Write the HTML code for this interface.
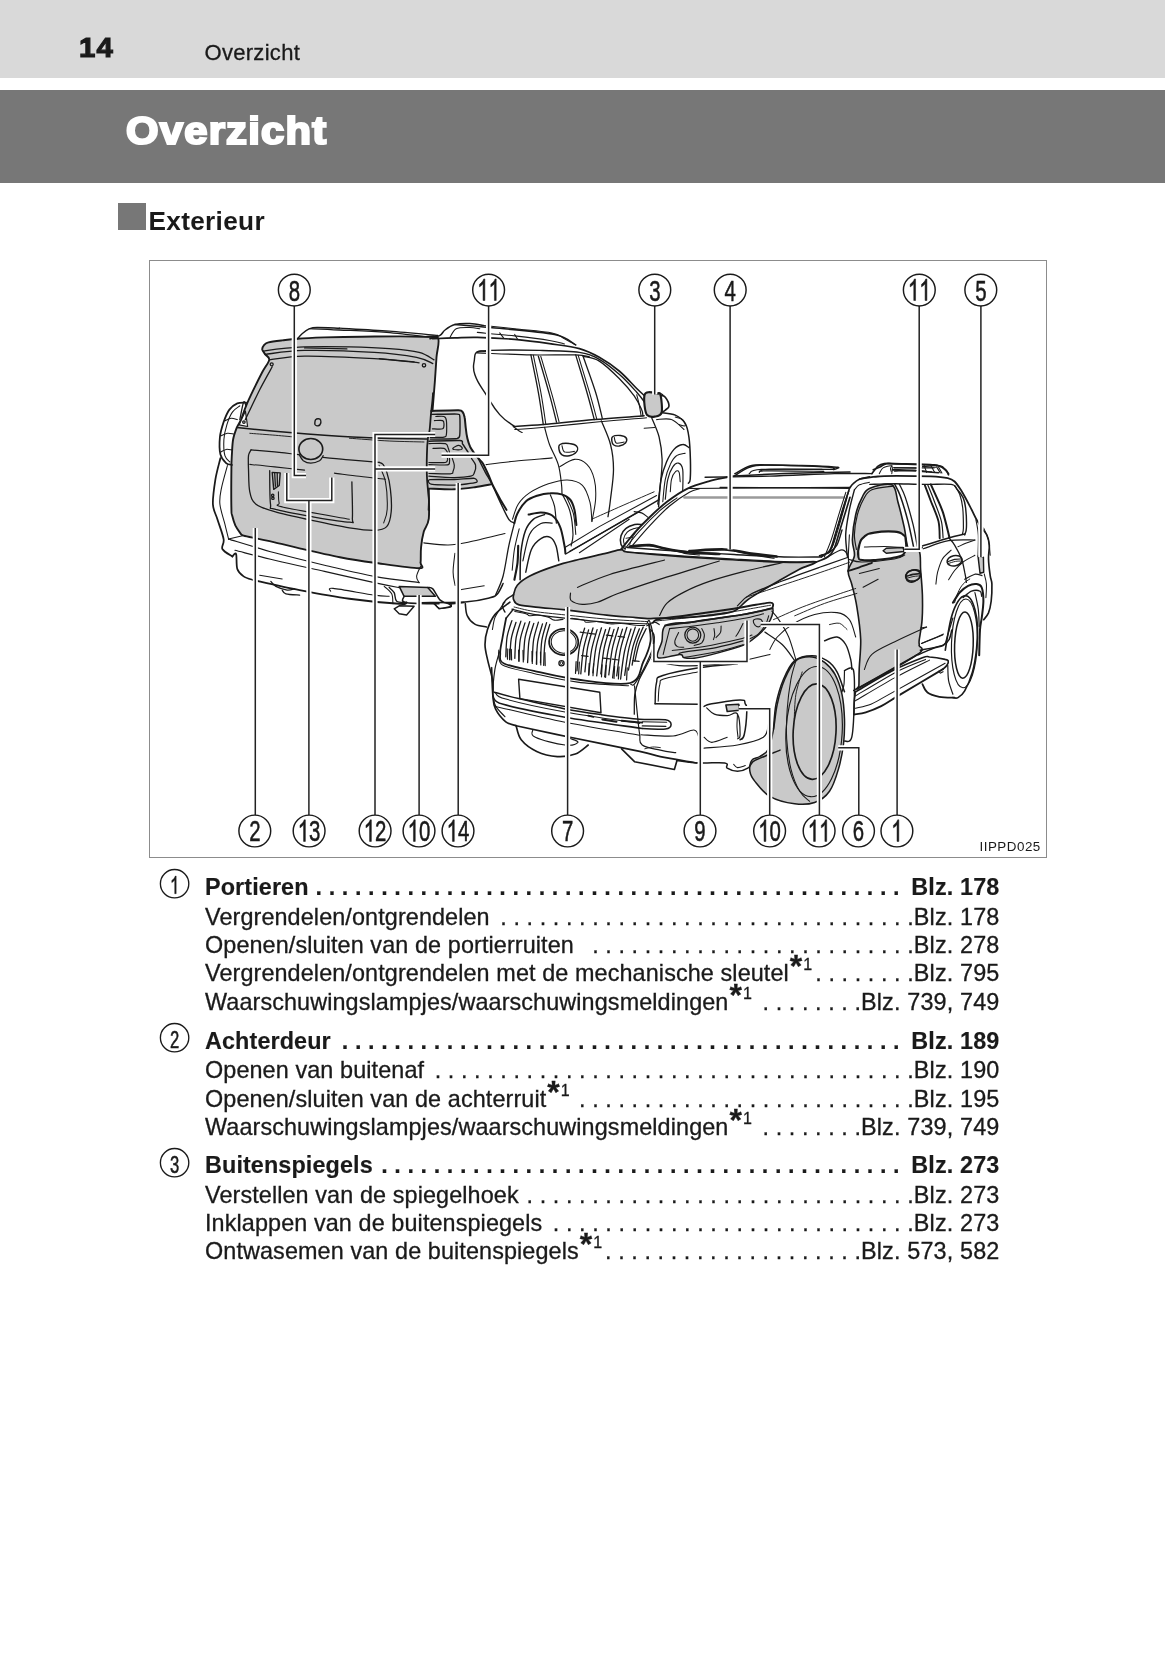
<!DOCTYPE html>
<html><head><meta charset="utf-8"><title>Overzicht</title>
<style>
html,body{margin:0;padding:0;background:#fff}
body{width:1165px;height:1653px;position:relative;overflow:hidden;will-change:transform;font-family:"Liberation Sans",sans-serif;color:#1a1a1a}
.band1{position:absolute;left:0;top:0;width:1165px;height:77.8px;background:#d9d9d9}
.band2{position:absolute;left:0;top:89.8px;width:1165px;height:92.9px;background:#777}
.pn{position:absolute;left:79px;top:27.5px;font-size:28px;font-weight:bold;line-height:40px;transform-origin:0 50%;transform:scaleX(1.05);-webkit-text-stroke:1.1px #1a1a1a;letter-spacing:1px}
.hd{position:absolute;left:204.5px;top:40px;font-size:22px;line-height:26px;letter-spacing:0.3px;-webkit-text-stroke:0.3px #1a1a1a}
.ttl{position:absolute;left:126px;top:104.5px;font-size:38px;font-weight:bold;line-height:52px;color:#fff;transform-origin:0 50%;transform:scaleX(1.1);-webkit-text-stroke:2.2px #fff;letter-spacing:1.1px}
.sq{position:absolute;left:118px;top:202.5px;width:27.5px;height:27.5px;background:#777}
.ext{position:absolute;left:148.5px;top:204.5px;font-size:26.2px;font-weight:bold;line-height:32px;letter-spacing:0.32px}
.fig{position:absolute;left:149.3px;top:260.2px;width:895.4px;height:596.2px;border:1.6px solid #8c8c8c;box-sizing:content-box}
svg.art{position:absolute;left:0;top:0}
.row{position:absolute;left:205px;width:794.5px;height:28px;line-height:28px;font-size:23.4px;display:flex;white-space:nowrap}
.row{-webkit-text-stroke:0.3px #1a1a1a}
.row.b{font-weight:bold;-webkit-text-stroke:0.15px #1a1a1a}
.row .l{flex:none;letter-spacing:0.1px}
.row .r{flex:none;letter-spacing:0.15px}
.row .d{flex:1 1 0;min-width:0;overflow:hidden;display:flex;justify-content:flex-end;margin-left:3px}
.row .di{flex:none;letter-spacing:0.065px}
.row.b .di{margin-right:11.5px}
.ast{font-size:32px;font-weight:bold;line-height:0;position:relative;top:-4px;vertical-align:baseline;letter-spacing:0;margin-left:1px}
.s1{font-size:16px;line-height:0;position:relative;top:-11px;margin-left:1px;letter-spacing:0}
.code{position:absolute;left:979.5px;top:839.3px;font-size:13.4px;line-height:16px;letter-spacing:0.5px}
</style></head><body>
<div class="band1"></div><div class="band2"></div>
<div class="pn">14</div><div class="hd">Overzicht</div>
<div class="ttl">Overzicht</div>
<div class="sq"></div><div class="ext">Exterieur</div>
<div class="fig"></div>
<svg class="art" width="1165" height="1653" viewBox="0 0 1165 1653" font-family="Liberation Sans, sans-serif">
<g id="cars" fill="none" stroke="#1a1a1a" stroke-width="1.3" stroke-linejoin="round" stroke-linecap="round">
<path d="M262.2 349.4 C262.1 347.8 263.2 346.1 264.2 344.9 C265.3 343.7 265.5 343.2 268.5 342.4 C271.4 341.7 277.3 341.0 282.2 340.4 C287.0 339.8 290.5 339.2 297.6 338.7 C304.6 338.2 313.8 337.8 324.5 337.4 C335.2 337.1 349.4 336.8 361.8 336.7 C374.3 336.5 388.8 336.4 399.2 336.4 C409.5 336.5 417.6 336.7 424.0 336.9 C430.5 337.2 435.9 334.5 438.0 337.9 C440.1 341.3 437.0 350.0 436.5 357.3 C436.0 364.7 435.4 373.9 434.8 382.2 C434.1 390.5 433.4 398.8 432.8 407.1 C432.1 415.4 431.6 423.7 431.0 432.0 C430.5 440.3 429.9 447.6 429.5 456.9 C429.2 466.2 428.9 477.5 428.8 487.8 C428.7 498.1 429.6 511.4 428.8 518.7 C427.9 526.0 425.1 526.9 423.8 531.6 C422.5 536.3 421.6 541.9 421.1 547.0 C420.5 552.2 421.0 558.9 420.6 562.5 C420.1 566.0 426.3 568.2 418.6 568.2 C410.9 568.2 387.4 564.5 374.3 562.7 C361.1 560.9 352.4 559.6 339.9 557.2 C327.5 554.8 310.4 550.8 299.6 548.3 C288.7 545.8 281.7 543.9 274.7 542.3 C267.6 540.7 262.4 539.7 257.3 538.6 C252.1 537.5 246.4 536.5 243.6 535.6 C240.7 534.7 241.7 534.8 240.3 533.1 C239.0 531.4 236.7 528.4 235.3 525.4 C234.0 522.4 232.8 518.0 232.1 515.2 C231.4 512.4 231.5 516.3 231.4 508.7 C231.2 501.1 231.3 478.4 231.4 469.4 C231.4 460.3 231.6 459.4 231.9 454.4 C232.2 449.4 232.3 444.0 233.1 439.5 C233.9 435.0 235.5 430.9 236.8 427.5 C238.2 424.2 239.5 423.2 241.1 419.6 C242.6 416.0 244.0 410.9 246.1 405.9 C248.1 400.9 250.8 395.3 253.5 389.7 C256.2 384.1 259.6 377.3 262.2 372.3 C264.8 367.3 268.7 362.8 269.2 359.8 C269.7 356.8 266.4 356.1 265.2 354.4 C264.1 352.6 262.4 351.0 262.2 349.4Z" fill="#c9c9c9" stroke-width="1.89"/>
<path d="M297.6 338.7 C298.3 337.8 300.1 335.4 302.1 333.7 C304.1 332.0 307.0 329.8 309.5 328.7 C312.0 327.7 312.0 327.6 317.0 327.5 C322.0 327.4 335.7 328.1 339.4 328.2" stroke-width="1.42"/>
<path d="M309.5 328.7 C314.5 328.9 326.5 329.3 339.4 330.0 C352.3 330.6 370.5 331.1 386.7 332.4 C402.9 333.8 428.2 337.0 436.5 337.9"/>
<path d="M339.4 328.2 C347.7 328.7 372.8 330.0 389.2 331.2 C405.6 332.4 429.6 334.7 437.7 335.4"/>
<path d="M263.5 351.1 C265.3 350.8 267.8 350.1 274.7 349.4 C281.5 348.7 292.1 347.3 304.6 346.9 C317.0 346.5 335.3 346.6 349.4 346.9 C363.5 347.2 377.6 347.7 389.2 348.6 C400.8 349.5 411.6 350.5 419.1 352.4 C426.5 354.2 431.5 358.6 434.0 359.8"/>
<path d="M265.2 354.4 C271.8 353.7 286.4 350.7 304.6 350.4 C322.7 350.0 355.6 351.2 374.3 352.4 C392.9 353.5 406.8 355.5 416.6 357.3 C426.3 359.2 430.1 362.5 432.8 363.6"/>
<path d="M269.7 359.8 C275.5 359.2 287.1 356.3 304.6 356.1 C322.0 355.9 355.2 357.5 374.3 358.6 C393.3 359.7 411.6 362.1 419.1 362.8"/>
<path d="M304.6 347.9 L346.9 348.9"/>
<path d="M379.2 358.6 L414.1 361.8"/>
<ellipse cx="271.7" cy="364.3" rx="1.5" ry="1.5"/>
<ellipse cx="424.0" cy="365.3" rx="1.7" ry="1.7"/>
<path d="M239.2 424.8 L245.4 411.1 L247.6 426.5Z" fill="#fff" stroke-width="1.18"/>
<ellipse cx="243.9" cy="422.1" rx="1.3" ry="1.3" fill="#c9c9c9" stroke-width="1.18"/>
<path d="M272.2 366.8 C270.1 370.6 264.2 380.9 259.7 389.7 C255.3 398.5 247.7 414.6 245.3 419.6"/>
<path d="M239.8 419.6 C240.5 416.7 242.5 404.4 243.6 402.2 C244.6 399.9 245.6 405.3 246.1 405.9"/>
<path d="M236.8 427.5 C243.1 428.2 260.1 430.0 274.7 431.3 C289.3 432.6 307.9 434.1 324.5 435.3 C341.1 436.4 357.0 437.4 374.3 438.0 C391.5 438.6 418.9 438.8 427.8 439.0" stroke-width="1.53"/>
<path d="M349.4 438.2 C356.0 438.7 376.7 440.4 389.2 441.0 C401.6 441.6 418.2 441.8 424.0 442.0" stroke-width="0.94"/>
<path d="M249.8 433.3 C253.5 433.6 264.7 434.4 272.2 435.0 C279.7 435.6 290.9 436.7 294.6 437.0" stroke-width="0.94"/>
<path d="M315.0 424.6 C314.6 423.5 314.9 420.5 315.8 419.6 C316.6 418.7 319.2 418.5 320.0 419.1 C320.8 419.7 321.0 422.2 320.7 423.3 C320.4 424.4 319.2 425.6 318.2 425.8 C317.3 426.0 315.4 425.6 315.0 424.6Z" stroke-width="1.42"/>
<ellipse cx="310.8" cy="449.0" rx="11.9" ry="10.5" fill="#c9c9c9" stroke-width="1.65"/>
<path d="M299.1 454.4 C299.8 455.5 301.4 459.2 303.3 460.7 C305.3 462.1 308.1 463.1 310.8 463.1 C313.5 463.1 317.4 461.9 319.5 460.7 C321.6 459.4 322.6 456.5 323.2 455.7"/>
<path d="M251.0 449.9 C255.0 450.3 266.8 451.2 274.7 451.9 C282.6 452.7 294.6 454.2 298.6 454.7"/>
<path d="M323.0 457.4 C327.4 457.8 340.0 459.1 349.4 459.9 C358.7 460.7 374.3 462.0 379.2 462.4"/>
<path d="M251.0 449.9 C250.6 450.9 249.0 452.4 248.5 455.7 C248.1 458.9 248.3 463.3 248.5 469.4 C248.8 475.4 248.5 486.0 249.8 491.8 C251.0 497.6 251.9 500.9 256.0 504.2 C260.2 507.5 265.3 509.0 274.7 511.7 C284.0 514.4 299.6 517.7 312.0 520.4 C324.5 523.1 339.0 526.2 349.4 527.9 C359.7 529.5 368.0 530.6 374.3 530.4 C380.5 530.1 383.9 529.7 386.7 526.6 C389.5 523.5 390.6 517.9 391.2 511.7 C391.8 505.5 391.2 495.9 390.4 489.3 C389.7 482.6 388.0 476.0 386.7 471.9 C385.5 467.7 384.2 466.0 383.0 464.4 C381.7 462.8 379.9 462.7 379.2 462.4"/>
<path d="M249.8 464.4 C253.9 464.8 265.6 465.9 274.7 466.9 C283.8 467.8 299.6 469.6 304.6 470.1" stroke-width="1.06"/>
<path d="M334.4 473.1 C338.6 473.6 350.8 475.3 359.3 476.3 C367.8 477.4 381.1 478.8 385.5 479.3" stroke-width="1.06"/>
<path d="M379.2 465.6 C380.3 468.3 384.1 474.6 385.5 481.8 C386.8 489.1 387.5 502.4 387.2 509.2 C386.9 516.0 384.3 520.6 383.7 522.9" stroke-width="1.06"/>
<path d="M269.7 470.6 C269.8 476.2 269.6 497.8 270.5 504.2 C271.3 510.6 267.8 507.1 274.7 509.2 C281.6 511.3 299.6 514.5 312.0 516.7 C324.5 518.8 342.6 521.9 349.4 522.1 C356.1 522.3 351.9 524.6 352.4 517.9 C352.8 511.2 351.9 487.8 351.9 481.8"/>
<path d="M278.4 491.8 C278.5 493.6 278.3 500.4 279.2 503.0 C280.0 505.5 271.7 504.5 283.4 507.2 C295.1 509.9 338.4 517.2 349.4 519.2" stroke-width="1.06"/>
<path d="M272.2 472.4 L280.2 472.9 L279.2 485.5 L273.7 489.3Z" stroke-width="1.42"/>
<path d="M274.7 473.1 L275.4 486.3"/>
<path d="M277.2 473.1 L277.4 485.5"/>
<ellipse cx="272.7" cy="495.3" rx="1.2" ry="1.2"/>
<ellipse cx="272.9" cy="498.2" rx="1.2" ry="1.2"/>
<path d="M246.1 402.6 C244.6 402.8 240.1 402.2 237.3 403.4 C234.6 404.6 231.7 406.5 229.4 409.6 C227.1 412.7 225.2 417.5 223.6 422.1 C222.1 426.6 220.5 431.6 219.9 437.0 C219.4 442.4 219.4 450.1 220.4 454.4 C221.5 458.8 224.2 461.4 226.1 463.1 C228.0 464.9 230.9 464.6 231.9 464.9" stroke-width="1.77"/>
<path d="M239.8 405.9 C238.6 406.9 234.5 409.0 232.4 412.1 C230.2 415.2 228.3 420.0 226.9 424.6 C225.5 429.1 224.2 434.3 223.9 439.5 C223.6 444.7 223.9 451.9 224.9 455.7 C225.9 459.4 229.0 460.9 229.9 461.9" stroke-width="1.06"/>
<path d="M224.9 420.8 C225.9 420.4 229.0 418.5 231.1 418.3 C233.2 418.1 236.3 419.4 237.3 419.6" stroke-width="1.06"/>
<path d="M221.2 435.8 C222.2 435.3 225.3 433.6 227.4 433.3 C229.5 433.0 232.6 433.9 233.6 434.0" stroke-width="1.06"/>
<path d="M220.9 451.9 C221.8 451.5 224.2 449.8 226.1 449.4 C228.0 449.1 231.3 449.9 232.4 449.9" stroke-width="1.06"/>
<path d="M220.4 458.2 C219.6 461.7 216.7 471.6 215.4 479.3 C214.2 487.0 212.6 497.6 212.9 504.2 C213.3 510.9 215.6 513.3 217.4 519.2 C219.2 525.0 222.8 534.1 223.6 539.1 C224.5 544.0 221.0 546.1 222.4 549.0 C223.9 551.9 230.7 555.3 232.4 556.5" stroke-width="1.77"/>
<path d="M227.4 465.6 C226.3 469.6 222.4 482.8 221.2 489.3 C219.9 495.7 219.3 498.4 219.9 504.2 C220.5 510.0 223.4 518.3 224.9 524.1 C226.3 529.9 228.0 536.6 228.6 539.1" stroke-width="1.06"/>
<path d="M228.6 539.1 L243.6 535.6" stroke-width="1.06"/>
<path d="M228.6 539.1 C236.3 541.4 258.7 548.4 274.7 552.8 C290.7 557.1 307.9 561.3 324.5 565.2 C341.1 569.1 358.5 573.5 374.3 576.4 C390.0 579.3 411.6 581.6 419.1 582.6" stroke-width="1.18"/>
<path d="M234.9 550.3 C241.5 551.9 259.7 556.7 274.7 560.2 C289.6 563.8 307.9 567.7 324.5 571.4 C341.1 575.2 361.8 579.9 374.3 582.6 C386.7 585.3 395.0 586.8 399.2 587.6" stroke-width="1.18"/>
<path d="M232.4 556.5 C233.0 556.1 235.3 551.9 236.1 554.0 C236.9 556.1 236.1 565.2 237.3 568.9 C238.6 572.7 240.9 574.5 243.6 576.4 C246.3 578.3 251.9 579.5 253.5 580.1" stroke-width="1.77"/>
<path d="M253.5 580.1 C261.2 581.8 283.6 587.0 299.6 590.1 C315.6 593.2 332.8 596.5 349.4 598.8 C366.0 601.1 389.6 603.2 399.2 603.8 C408.7 604.4 405.4 602.8 406.6 602.5" stroke-width="1.89"/>
<path d="M259.7 575.2 L282.2 578.9" stroke-width="1.06"/>
<path d="M330.7 591.3 C331.1 590.8 325.9 587.7 333.2 588.4 C340.4 589.0 364.9 593.8 374.3 595.1 C383.6 596.4 386.7 596.1 389.2 596.3" stroke-width="1.06"/>
<path d="M270.9 581.4 C271.8 582.2 273.2 584.9 275.9 586.4 C278.6 587.8 284.0 589.7 287.1 590.1 C290.2 590.5 293.4 589.1 294.6 588.9"/>
<path d="M282.2 590.1 C282.8 590.7 283.0 593.0 285.9 593.8 C288.8 594.7 297.3 594.9 299.6 595.1"/>
<path d="M419.1 582.6 C418.7 581.6 416.3 579.1 416.6 576.4 C416.8 573.7 419.9 568.1 420.6 566.5" stroke-width="1.06"/>
<path d="M389.2 587.6 C390.0 588.4 392.9 590.3 394.2 592.6 C395.4 594.9 394.6 599.6 396.7 601.3 C398.7 603.0 405.0 602.3 406.6 602.5" stroke-width="1.42"/>
<path d="M384.2 586.4 C385.5 587.6 390.2 590.9 391.7 593.8 C393.1 596.7 392.7 602.1 392.9 603.8" stroke-width="1.06"/>
<path d="M399.2 586.4 L427.8 587.6 L435.3 596.3 L404.1 596.3Z" fill="#c9c9c9" stroke-width="1.53"/>
<path d="M427.8 587.6 C428.6 587.8 430.7 586.8 432.8 588.9 C434.8 590.9 437.5 597.6 440.2 600.1 C442.9 602.5 445.0 603.4 448.9 603.8 C452.9 604.2 461.4 602.8 463.9 602.5" stroke-width="1.53"/>
<path d="M404.1 596.3 C404.3 597.4 399.6 601.3 405.4 602.5 C411.2 603.8 433.4 603.6 439.0 603.8" stroke-width="1.53"/>
<path d="M394.2 608.8 L399.2 605.8 L414.1 606.3 L406.6 615.0 L399.2 613.8Z" stroke-width="1.42"/>
<path d="M434.0 603.8 L439.0 608.8 L451.4 606.3 L448.9 603.8" stroke-width="1.30"/>
<path d="M431.3 411.0 C435.0 410.5 454.3 410.2 458.5 410.3 C462.6 410.4 461.8 411.1 462.6 412.0 C463.4 412.9 464.2 415.1 464.6 417.2 C465.1 419.2 465.3 424.6 465.7 427.5 C466.0 430.3 466.8 435.9 467.4 438.5 C468.0 441.0 469.3 444.9 470.1 446.7 C471.0 448.5 472.5 450.6 473.6 452.2 C474.7 453.8 477.1 456.8 478.4 458.4 C479.7 459.9 481.8 461.6 483.2 463.9 C484.6 466.2 487.5 472.9 488.7 475.5 C489.9 478.2 493.9 482.4 492.1 483.9 C490.3 485.5 480.0 486.5 474.9 487.2 C469.9 487.9 460.6 489.1 454.3 489.3 C448.1 489.5 431.9 490.4 428.2 488.6 C424.6 486.8 427.1 480.0 426.9 475.5 C426.7 471.1 426.7 459.9 426.9 454.9 C427.0 450.0 427.5 441.8 427.9 438.5 C428.3 435.2 429.2 433.5 429.6 430.2 C430.0 426.9 430.8 416.3 431.0 413.7 C431.2 411.2 427.7 411.4 431.3 411.0Z" fill="#c9c9c9" stroke-width="0.01"/>
<path d="M431.3 411.0 C434.9 410.9 454.3 410.2 458.5 410.3 C462.6 410.4 461.8 411.1 462.6 412.0 C463.4 412.9 464.2 415.1 464.6 417.2 C465.1 419.2 465.3 424.6 465.7 427.5 C466.0 430.3 466.8 435.9 467.4 438.5 C468.0 441.0 469.3 444.9 470.1 446.7 C471.0 448.5 472.5 450.6 473.6 452.2 C474.7 453.8 477.1 456.8 478.4 458.4 C479.7 459.9 481.8 461.6 483.2 463.9 C484.6 466.2 487.5 472.9 488.7 475.5 C489.9 478.2 490.6 480.8 492.1 483.9 C493.6 487.0 498.1 495.4 500.0 498.9 C501.9 502.4 505.7 508.4 506.5 509.9" stroke-width="2.01"/>
<path d="M428.2 488.6 C432.6 488.7 446.6 489.5 454.3 489.3 C462.1 489.1 468.6 488.1 474.9 487.2 C481.2 486.4 489.3 484.6 492.1 484.1" stroke-width="1.89"/>
<path d="M431.7 414.4 C434.2 414.4 454.3 413.9 457.1 414.1 C459.9 414.3 459.6 414.5 459.8 416.5 C460.1 418.5 460.1 432.1 459.8 434.3 C459.6 436.5 460.0 438.0 457.1 438.5 C454.1 438.9 433.0 439.1 430.3 439.1" stroke-width="1.42"/>
<path d="M435.8 416.5 C436.9 416.5 442.6 415.9 444.0 416.5 C445.5 417.0 446.1 418.2 446.4 420.6 C446.8 423.0 446.8 432.1 446.4 434.3 C446.1 436.5 446.2 436.7 444.0 437.1 C441.9 437.5 432.1 437.4 430.3 437.4" stroke-width="1.18"/>
<path d="M434.4 420.6 C435.5 420.6 441.4 420.1 442.7 420.6 C443.9 421.1 444.0 422.9 444.0 424.0 C444.0 425.1 444.2 428.2 442.7 428.8 C441.1 429.5 433.7 428.8 432.4 428.8" stroke-width="1.18"/>
<path d="M428.9 441.2 C433.0 441.1 455.3 440.2 459.8 440.5 C464.3 440.9 461.5 442.4 462.6 444.0 C463.7 445.5 467.3 451.1 468.1 452.2" stroke-width="1.42"/>
<path d="M428.9 443.6 C431.1 443.6 442.8 443.0 445.4 443.6 C448.0 444.2 447.6 446.9 448.2 448.1 C448.7 449.2 449.3 451.6 449.5 452.2" stroke-width="1.18"/>
<path d="M433.0 448.4 C434.5 448.4 442.1 447.9 444.0 448.4 C446.0 448.9 447.0 451.7 447.5 452.2" stroke-width="1.18"/>
<path d="M453.0 448.1 C453.7 447.4 457.0 445.4 458.5 445.3 C459.9 445.2 461.4 446.7 461.9 447.4 C462.4 448.1 462.5 449.1 461.2 449.5 C459.9 449.8 455.7 449.7 454.3 449.5 C453.0 449.2 452.3 448.8 453.0 448.1Z" stroke-width="1.18"/>
<path d="M428.9 462.5 C431.1 462.5 442.9 462.9 445.4 462.5 C447.9 462.1 447.2 460.3 447.5 459.8 C447.7 459.2 447.5 458.6 447.5 458.4" stroke-width="1.18"/>
<path d="M428.9 464.6 C431.4 464.6 444.7 465.3 447.5 464.9 C450.2 464.5 449.3 462.7 449.5 461.8 C449.8 460.9 449.5 458.8 449.5 458.4" stroke-width="1.18"/>
<path d="M452.3 458.4 C452.6 459.5 454.2 463.1 454.3 465.2 C454.5 467.4 453.7 470.0 453.0 471.4 C452.3 472.9 454.2 473.5 450.2 473.8 C446.2 474.2 432.5 473.5 428.9 473.5" stroke-width="1.18"/>
<path d="M471.5 458.4 C472.2 459.5 475.2 462.8 475.6 465.2 C476.1 467.7 475.1 471.0 474.3 472.8 C473.5 474.6 474.1 475.4 470.8 476.2 C467.5 477.0 461.3 477.6 454.3 477.6 C447.4 477.6 433.2 476.5 428.9 476.2" stroke-width="1.30"/>
<path d="M429.6 479.7 C432.0 479.2 449.9 479.7 454.3 479.5 C458.8 479.4 472.1 478.0 474.3 478.3 C476.5 478.6 478.3 481.7 476.3 482.4 C474.3 483.1 458.9 485.0 454.3 485.2 C449.8 485.3 433.5 484.7 431.0 484.1 C428.5 483.6 427.3 480.1 429.6 479.7Z" stroke-width="1.30"/>
<path d="M433.0 393.1 C433.0 394.3 432.8 396.6 432.5 400.0 C432.2 403.4 431.5 408.7 431.0 413.7 C430.5 418.8 430.1 426.1 429.6 430.2 C429.1 434.3 428.4 434.3 427.9 438.5 C427.4 442.6 427.0 448.8 426.9 454.9 C426.7 461.1 426.7 469.8 426.9 475.5 C427.0 481.3 427.6 485.2 427.9 489.3 C428.2 493.4 428.8 496.6 428.9 500.0 C429.0 503.4 428.6 508.2 428.6 509.9" stroke-width="1.77"/><path d="M430.0 338.7 C431.7 338.1 437.5 336.9 440.0 335.4 C442.5 334.0 442.5 331.8 445.0 330.0 C447.5 328.1 450.8 325.6 454.9 324.5 C459.1 323.4 465.1 323.3 469.9 323.5 C474.6 323.7 481.3 325.1 483.6 325.5" stroke-width="1.53"/>
<path d="M454.9 324.5 C460.7 325.0 473.2 325.8 489.8 327.5 C506.4 329.1 540.2 331.5 554.5 334.4 C568.8 337.3 572.1 343.2 575.7 344.9" stroke-width="1.53"/>
<path d="M450.0 337.4 C451.0 336.0 452.9 330.4 456.2 328.7 C459.5 327.1 465.9 327.5 469.9 327.5 C473.8 327.5 478.2 328.5 479.8 328.7" stroke-width="1.06"/>
<path d="M477.3 332.4 C483.6 333.0 502.7 334.6 514.7 335.9 C526.7 337.3 541.2 339.1 549.5 340.4 C557.8 341.7 562.0 343.3 564.5 343.9" stroke-width="1.06"/>
<path d="M483.6 325.5 C488.8 326.0 503.3 327.5 514.7 328.7 C526.1 330.0 543.7 331.3 552.0 332.9 C560.3 334.6 560.5 336.7 564.5 338.7 C568.4 340.7 573.8 343.9 575.7 344.9" stroke-width="1.06"/>
<path d="M499.7 332.9 L503.5 337.9" stroke-width="1.06"/>
<path d="M514.7 334.4 L517.7 339.4" stroke-width="1.06"/>
<path d="M432.5 338.7 C436.3 338.5 447.5 338.1 454.9 337.9 C462.4 337.7 467.4 337.2 477.3 337.4 C487.3 337.7 502.7 338.4 514.7 339.4 C526.7 340.5 538.7 342.1 549.5 343.6 C560.3 345.2 571.1 346.3 579.4 348.6 C587.7 350.9 592.7 353.6 599.3 357.3 C606.0 361.1 613.0 365.8 619.2 371.0 C625.5 376.2 632.1 384.0 636.7 388.5 C641.2 392.9 645.0 396.1 646.6 397.7" stroke-width="1.65"/>
<path d="M477.3 351.9 C479.4 351.6 479.4 350.6 489.8 350.4 C500.2 350.1 524.6 350.0 539.6 350.4 C554.5 350.7 569.4 350.9 579.4 352.4 C589.4 353.9 592.7 355.7 599.3 359.3 C606.0 363.0 613.0 368.8 619.2 374.3 C625.5 379.7 632.4 387.5 636.7 392.2 C640.9 396.8 643.3 400.5 644.6 402.2" stroke-width="1.42"/>
<path d="M486.1 351.4 C484.0 351.5 480.1 349.9 477.3 351.9 C474.6 353.8 474.9 354.5 474.4 359.8 C473.8 365.2 472.1 366.6 474.9 374.8 C477.6 382.9 480.2 385.4 486.1 394.7 C491.9 404.0 493.1 407.2 499.7 414.6 C506.4 422.0 511.2 423.8 514.7 426.5" stroke-width="1.42"/>
<path d="M477.3 352.9 C486.3 353.2 514.5 354.5 530.9 354.9 C547.3 355.2 565.9 354.5 575.7 354.9 C585.4 355.2 587.1 356.5 589.4 356.8" stroke-width="1.18"/>
<path d="M530.9 354.9 C532.1 361.1 536.3 380.6 538.3 392.2 C540.4 403.8 542.5 419.2 543.3 424.6" stroke-width="1.30"/>
<path d="M533.4 355.3 C534.6 361.5 538.7 380.7 540.8 392.2 C542.9 403.6 545.0 418.7 545.8 424.1" stroke-width="1.06"/>
<path d="M538.3 356.1 C540.2 362.5 546.5 383.7 549.5 394.7 C552.6 405.7 555.3 417.5 556.5 422.1" stroke-width="1.30"/>
<path d="M540.8 356.3 C542.7 362.7 549.0 383.8 552.0 394.7 C555.1 405.6 557.8 417.1 559.0 421.6" stroke-width="1.06"/>
<path d="M575.7 354.9 C577.5 361.1 583.8 381.4 586.9 392.2 C590.0 403.0 593.1 415.0 594.3 419.6" stroke-width="1.30"/>
<path d="M578.2 355.3 C580.0 361.5 586.3 381.6 589.4 392.2 C592.5 402.8 595.6 414.6 596.8 419.1" stroke-width="1.06"/>
<path d="M583.1 356.3 C585.2 362.3 592.4 381.9 595.6 392.2 C598.8 402.5 601.2 414.0 602.3 418.3" stroke-width="1.30"/>
<path d="M583.1 356.3 C585.8 357.1 593.3 357.4 599.3 361.1 C605.3 364.8 613.4 372.7 619.2 378.5 C625.0 384.3 630.4 390.7 634.2 395.9 C637.9 401.1 640.2 406.3 641.6 409.6 C643.1 412.9 642.7 414.8 642.9 415.8" stroke-width="1.30"/>
<path d="M636.7 394.7 C637.1 396.3 638.4 401.1 639.2 404.6 C639.9 408.2 640.8 414.0 641.1 415.8" stroke-width="1.06"/>
<path d="M513.4 426.5 C518.4 426.2 529.8 425.7 543.3 424.6 C556.8 423.4 577.5 421.0 594.3 419.6 C611.1 418.1 635.8 416.5 644.1 415.8" stroke-width="1.53"/>
<path d="M514.7 429.5 C519.7 429.2 530.4 428.6 544.6 427.3 C558.7 426.0 582.3 423.4 599.3 421.8 C616.3 420.2 638.7 418.5 646.6 417.8" stroke-width="1.06"/>
<path d="M513.4 426.5 C514.4 427.3 517.7 430.0 519.2 431.0 C520.6 432.0 521.7 432.3 522.2 432.5" stroke-width="1.06"/>
<path d="M544.6 427.3 C545.4 430.2 547.3 438.3 549.5 444.5 C551.8 450.7 556.3 457.7 558.2 464.4 C560.2 471.0 560.9 479.3 561.5 484.3 C562.1 489.3 561.9 492.6 562.0 494.3" stroke-width="1.18"/>
<path d="M559.5 466.9 C562.0 465.6 569.9 459.8 574.4 459.4 C579.0 459.0 583.6 461.1 586.9 464.4 C590.2 467.7 592.9 473.5 594.3 479.3 C595.8 485.1 596.0 492.2 595.6 499.2 C595.2 506.3 592.5 517.9 591.9 521.6" stroke-width="1.06"/>
<path d="M601.3 420.8 C602.8 424.8 608.5 436.4 610.5 444.5 C612.6 452.6 613.5 460.2 613.5 469.4 C613.5 478.5 611.4 491.4 610.5 499.2 C609.6 507.1 608.5 513.8 608.0 516.7" stroke-width="1.30"/>
<path d="M651.6 417.6 C652.8 420.8 657.3 430.0 659.1 437.0 C660.8 444.0 661.8 451.9 662.1 459.4 C662.3 466.9 661.3 474.3 660.6 481.8 C659.9 489.3 658.3 500.5 657.8 504.2" stroke-width="1.30"/>
<path d="M644.1 428.3 L654.6 427.5" stroke-width="1.06"/>
<path d="M559.0 449.4 C558.7 447.7 558.2 445.5 560.0 444.5 C561.7 443.5 566.6 443.1 569.4 443.5 C572.3 443.8 575.8 445.1 576.9 446.5 C578.1 447.9 577.7 450.4 576.4 451.9 C575.2 453.5 571.9 455.2 569.4 455.7 C567.0 456.2 563.7 456.0 562.0 454.9 C560.2 453.9 559.3 451.2 559.0 449.4Z" stroke-width="1.42"/>
<path d="M562.0 445.7 C562.4 446.8 562.4 451.0 564.5 451.9 C566.5 452.9 572.8 451.5 574.4 451.4" stroke-width="1.06"/>
<path d="M611.8 440.7 C611.6 439.3 611.3 437.4 612.8 436.5 C614.2 435.6 618.2 435.3 620.5 435.5 C622.7 435.8 625.4 436.8 626.2 438.0 C627.0 439.2 626.6 441.6 625.5 443.0 C624.3 444.3 621.2 445.6 619.2 446.0 C617.3 446.3 615.0 445.8 613.8 445.0 C612.5 444.1 611.9 442.1 611.8 440.7Z" stroke-width="1.42"/>
<path d="M614.3 437.5 C614.6 438.4 614.6 442.2 616.3 443.0 C617.9 443.7 622.9 442.1 624.2 442.0" stroke-width="1.06"/>
<path d="M644.6 394.7 C645.3 392.4 646.5 392.4 648.6 392.2 C650.7 392.0 655.1 393.2 657.1 393.7 C659.1 394.2 659.8 392.0 660.6 395.2 C661.3 398.3 662.6 409.0 661.6 412.6 C660.6 416.2 657.0 416.2 654.6 416.6 C652.2 417.0 648.8 416.9 647.1 415.1 C645.5 413.3 645.0 409.3 644.6 405.9 C644.2 402.5 644.0 397.0 644.6 394.7Z" fill="#c9c9c9" stroke-width="2.12"/>
<path d="M660.6 395.2 C661.4 395.5 663.9 395.4 665.3 397.2 C666.7 399.0 669.0 403.7 669.0 405.9 C669.0 408.0 666.5 409.0 665.3 410.1 C664.0 411.2 662.2 412.2 661.6 412.6" stroke-width="1.65"/>
<path d="M656.6 393.7 C657.0 393.5 658.0 392.5 659.1 392.7 C660.1 392.9 662.2 394.4 662.8 394.7" stroke-width="1.18"/>
<path d="M661.6 412.6 C663.8 413.0 671.3 413.3 675.3 415.1 C679.2 416.9 682.9 419.7 685.2 423.3 C687.5 427.0 688.1 431.0 688.9 437.0 C689.8 443.0 690.2 452.4 690.4 459.4 C690.6 466.5 690.5 475.3 690.2 479.3 C689.9 483.3 688.7 482.6 688.4 483.3" stroke-width="1.53"/>
<path d="M675.3 417.1 C676.5 417.5 681.1 418.1 682.7 419.6 C684.4 421.0 685.8 425.0 685.2 425.8 C684.6 426.6 680.0 424.8 679.0 424.6" stroke-width="1.06"/>
<path d="M656.6 419.6 C659.1 419.6 667.0 417.9 671.5 419.6 C676.1 421.2 681.9 427.9 684.0 429.5" stroke-width="1.06"/>
<path d="M658.6 506.7 C659.0 502.1 659.7 486.8 661.1 479.3 C662.4 471.9 664.4 466.9 666.5 461.9 C668.7 456.9 671.3 452.4 674.0 449.4 C676.7 446.5 680.2 444.8 682.7 444.5 C685.2 444.1 687.9 447.0 688.9 447.5" stroke-width="1.42"/>
<path d="M662.8 501.7 C663.2 498.0 664.0 485.5 665.3 479.3 C666.5 473.1 668.4 468.3 670.3 464.4 C672.1 460.4 674.0 457.5 676.5 455.7 C679.0 453.8 683.8 453.6 685.2 453.2" stroke-width="1.06"/>
<path d="M665.3 499.2 C665.7 495.9 666.5 484.7 667.8 479.3 C669.0 473.9 671.0 469.6 672.8 466.9 C674.5 464.2 676.8 462.7 678.5 463.1 C680.1 463.6 682.0 464.6 682.7 469.4 C683.4 474.1 682.7 488.0 682.7 491.8" stroke-width="1.18"/>
<path d="M670.3 491.8 C670.5 489.7 670.7 482.6 671.5 479.3 C672.3 476.0 674.0 473.1 675.3 471.9 C676.5 470.6 678.2 470.2 679.0 471.9 C679.8 473.5 680.0 480.2 680.2 481.8" stroke-width="1.06"/>
<path d="M565.7 554.0 L659.1 499.7" stroke-width="1.42"/>
<path d="M569.4 551.5 L639.2 511.7" stroke-width="1.18"/>
<path d="M564.5 547.8 L599.3 526.6 L656.6 495.5" stroke-width="1.06"/>
<path d="M634.2 511.7 C635.4 511.9 639.4 512.0 641.6 512.9 C643.9 513.8 646.8 516.5 647.9 517.2" stroke-width="1.18"/>
<path d="M579.4 552.8 L629.2 519.2" stroke-width="1.06"/>
<path d="M591.9 519.2 C595.6 517.5 603.9 513.8 614.3 509.2 C624.6 504.6 647.5 494.7 654.1 491.8" stroke-width="0.94"/>
<path d="M478.5 458.9 C479.6 461.1 483.0 468.0 485.2 472.1 C487.4 476.3 489.1 478.5 491.8 483.8 C494.4 489.2 498.4 498.3 501.2 504.2 C504.0 510.1 506.6 516.2 508.8 519.3 C511.0 522.5 513.5 522.5 514.4 523.1" stroke-width="1.42"/>
<path d="M514.4 523.1 C514.9 521.5 515.4 517.3 517.3 513.7 C519.2 510.0 522.5 504.4 525.8 501.4 C529.1 498.4 533.0 497.1 537.1 495.7 C541.2 494.4 546.2 493.5 550.3 493.3 C554.4 493.0 558.3 493.4 561.6 494.4 C564.9 495.4 568.0 496.9 570.1 499.5 C572.3 502.1 573.4 505.6 574.5 509.9 C575.5 514.1 576.1 522.5 576.4 525.0" stroke-width="2.01"/>
<path d="M528.6 514.6 C530.6 514.3 536.9 512.4 540.9 512.5 C544.8 512.7 549.0 513.2 552.2 515.5 C555.4 517.9 558.1 521.8 560.1 526.9 C562.2 531.9 563.6 541.4 564.5 545.8 C565.4 550.2 565.3 552.1 565.4 553.3" stroke-width="2.01"/>
<path d="M550.3 494.8 C551.0 496.7 553.5 501.4 554.5 506.1 C555.5 510.8 556.0 520.3 556.4 523.1" stroke-width="1.18"/>
<path d="M562.6 494.8 C563.8 497.6 568.4 505.2 570.1 511.8 C571.9 518.4 572.8 528.8 573.0 534.4 C573.1 540.1 571.4 543.9 571.1 545.8" stroke-width="1.18"/>
<path d="M566.4 496.7 C567.5 499.5 571.8 507.4 573.4 513.7 C574.9 519.9 575.4 531.0 575.8 534.4" stroke-width="1.06"/>
<path d="M512.5 519.3 C513.5 516.8 515.4 508.6 518.2 504.2 C521.0 499.8 524.5 496.3 529.5 492.9 C534.6 489.5 542.1 486.0 548.4 483.8 C554.7 481.7 561.6 479.8 567.3 480.0 C573.0 480.3 578.6 481.6 582.4 485.3 C586.2 489.0 588.4 496.3 590.0 502.3 C591.5 508.3 591.5 518.1 591.9 521.2" stroke-width="1.06"/>
<path d="M520.1 579.8 C520.2 575.3 520.0 561.5 520.8 553.3 C521.7 545.1 523.3 536.3 525.4 530.7 C527.5 525.0 530.1 522.0 533.3 519.3 C536.5 516.6 542.8 515.4 544.6 514.6" stroke-width="1.53"/>
<path d="M522.9 560.9 C524.0 556.5 526.5 540.7 529.5 534.4 C532.5 528.2 537.1 525.4 540.9 523.5 C544.6 521.6 550.3 523.2 552.2 523.1" stroke-width="1.18"/>
<path d="M525.8 572.2 C526.7 568.4 528.9 555.1 531.4 549.5 C533.9 543.9 537.7 540.6 540.9 538.6 C544.0 536.5 547.8 536.1 550.3 537.3 C552.8 538.5 554.6 541.8 556.0 545.8 C557.4 549.7 558.3 558.4 558.8 560.9" stroke-width="1.42"/>
<path d="M518.2 545.8 C518.1 548.6 518.1 557.1 517.5 562.8 C516.8 568.4 514.9 576.9 514.4 579.8" stroke-width="2.12"/>
<path d="M514.4 523.1 C513.5 526.9 510.7 536.9 508.8 545.8 C506.9 554.6 505.3 567.7 503.1 576.0 C500.9 584.2 496.8 592.0 495.5 595.2" stroke-width="1.30"/>
<path d="M519.2 528.8 C518.4 532.2 515.6 542.6 514.4 549.5 C513.3 556.5 512.5 566.8 512.2 570.3" stroke-width="1.06"/>
<path d="M486.1 464.6 C490.8 464.0 503.4 462.3 514.4 461.2 C525.4 460.1 545.9 458.5 552.2 457.9" stroke-width="1.06"/>
<path d="M423.8 542.9 C427.9 543.3 440.8 545.2 448.3 545.0 C455.9 544.8 459.7 543.9 469.1 542.0 C478.5 540.1 499.0 534.9 505.0 533.5" stroke-width="1.06"/>
<path d="M454.9 553.3 C454.6 556.5 453.0 566.8 453.1 572.2 C453.1 577.6 454.8 583.2 455.1 585.4" stroke-width="1.06"/>
<path d="M461.5 589.6 L484.2 585.8" stroke-width="1.06"/>
<path d="M420.0 602.8 C427.9 602.6 455.6 602.5 467.2 601.7 C478.9 600.8 484.8 599.0 489.9 597.7 C494.9 596.4 495.2 596.3 497.4 593.9 C499.6 591.6 502.2 585.3 503.1 583.5" stroke-width="1.53"/>
<path d="M465.3 603.6 C465.6 605.6 465.6 612.2 467.2 615.6 C468.8 619.1 471.6 622.2 474.8 624.1 C478.0 626.0 484.5 626.5 486.5 627.0" stroke-width="1.53"/>
<path d="M435.1 603.6 C435.7 604.3 436.4 607.5 438.9 608.1 C441.4 608.7 448.2 607.7 450.2 607.1 C452.3 606.6 451.0 605.1 451.2 604.7" stroke-width="1.30"/><path d="M485.0 644.5 L487.5 629.5 L494.9 614.6 L504.9 602.2 L513.6 593.4 L517.3 585.2 L529.8 576.0 L554.7 566.1 L579.6 559.3 L604.5 553.6 L620.9 549.6 L619.7 544.6 L621.0 535.8 L626.0 528.4 L634.7 524.6 L642.2 524.1 L664.6 502.2 L687.0 488.5 L709.4 481.1 L726.8 477.3 L734.3 476.1 L749.2 467.4 L766.6 464.9 L833.8 466.9 L834.5 469.9 L871.9 473.6 L878.1 466.1 L884.3 463.6 L894.3 463.6 L934.1 464.9 L945.3 469.9 L951.5 477.3 L959.0 489.8 L968.9 509.7 L976.4 522.2 L983.9 527.1 L987.6 539.6 L990.1 549.5 L992.6 569.4 L993.3 589.7 L991.3 604.6 L987.6 619.6 L983.9 629.5 L981.4 639.5 L978.9 659.4 L973.9 674.3 L966.5 689.3 L959.0 695.5 L944.0 697.2 L931.6 693.0 L922.9 683.1 L921.6 680.8 L855.7 714.2 L854.4 719.2 L851.9 736.6 L845.7 741.6 L842.0 759.0 L837.0 776.4 L829.5 791.3 L814.6 802.5 L794.7 803.8 L769.8 796.3 L754.9 781.4 L749.9 771.4 L744.9 768.9 L734.9 771.4 L725.0 765.2 L725.2 762.7 L679.2 759.0 L674.2 768.9 L639.3 762.7 L621.9 750.3 L589.5 744.0 L584.6 751.5 L567.1 756.5 L542.2 754.0 L524.8 741.6 L517.3 726.6 L494.9 704.2 L492.4 689.3Z" fill="#fff" stroke="none"/>
<path d="M513.6 594.7 C514.2 592.2 514.6 588.3 517.3 585.2 C520.0 582.1 523.6 579.2 529.8 576.0 C536.0 572.8 546.4 568.8 554.7 566.1 C563.0 563.3 571.3 561.4 579.6 559.3 C587.9 557.3 597.6 555.2 604.5 553.6 C611.4 552.0 617.1 549.9 620.9 549.6 C624.7 549.4 620.8 551.1 627.2 552.0 C633.7 552.9 645.9 553.9 659.6 555.0 C673.3 556.1 692.8 557.5 709.4 558.5 C726.0 559.5 744.6 560.6 759.2 561.2 C773.7 561.9 787.0 562.4 796.5 562.5 C806.0 562.6 816.0 560.8 816.4 562.0 C816.8 563.1 805.2 566.3 799.0 569.4 C792.8 572.6 785.7 576.8 779.1 580.7 C772.4 584.5 764.5 589.0 759.2 592.4 C753.8 595.7 750.4 597.7 746.7 600.6 C743.1 603.4 740.2 607.3 737.2 609.3 C734.3 611.3 734.5 611.5 728.9 612.6 C723.4 613.7 712.3 615.2 704.0 616.1 C695.7 617.0 686.5 617.5 679.2 617.8 C671.8 618.2 665.0 618.0 659.7 618.1 C654.5 618.2 651.5 618.7 647.5 618.6 C643.6 618.5 642.6 618.2 635.8 617.6 C629.0 617.0 618.4 616.4 606.7 615.1 C595.1 613.8 576.8 611.1 565.9 609.9 C554.9 608.6 548.8 608.5 541.0 607.6 C533.2 606.8 523.6 606.1 519.1 604.9 C514.6 603.6 514.8 601.9 513.9 600.2 C512.9 598.5 513.0 597.2 513.6 594.7Z" fill="#c9c9c9" stroke-width="1.7"/>
<path d="M854.4 555.8 C855.1 550.5 852.2 546.4 852.4 539.6 C852.6 532.7 854.1 521.7 855.7 514.7 C857.3 507.7 859.6 502.1 861.9 497.8 C864.2 493.4 864.4 490.7 869.4 488.5 C874.3 486.4 887.0 482.5 891.8 484.8 C896.5 487.1 895.9 495.2 898.0 502.2 C900.1 509.3 902.4 519.2 904.2 527.1 C906.0 535.0 906.2 545.5 908.7 549.5 C911.2 553.5 917.2 547.7 919.2 551.1 C921.1 554.5 920.1 562.5 920.6 569.8 C921.2 577.0 922.1 586.4 922.4 594.7 C922.6 603.0 922.7 612.0 922.1 619.6 C921.6 627.2 919.7 635.9 919.2 640.2 C918.7 644.6 919.5 643.1 919.2 645.5 C918.8 647.9 927.4 647.5 917.2 654.7 C907.0 661.8 867.6 683.1 857.9 688.3 C848.2 693.4 858.7 688.7 858.9 685.5 C859.1 682.4 858.9 677.0 859.2 669.4 C859.4 661.7 861.0 649.9 860.7 639.5 C860.3 629.1 858.4 616.3 856.9 607.1 C855.5 598.0 853.4 590.7 851.9 584.7 C850.5 578.7 847.8 575.9 848.2 571.0 C848.6 566.2 853.7 561.0 854.4 555.8Z" fill="#c9c9c9" stroke-width="1.6"/>
<path d="M795.9 660.7 C791.4 664.4 787.8 672.1 784.7 679.3 C781.6 686.6 779.1 695.9 777.3 704.2 C775.4 712.5 775.0 721.6 773.5 729.1 C772.1 736.6 770.8 744.5 768.5 749.0 C766.3 753.6 762.6 754.6 759.8 756.5 C757.1 758.4 753.5 757.7 751.9 760.2 C750.2 762.7 749.4 767.9 749.9 771.4 C750.4 775.0 751.5 777.2 754.9 781.4 C758.2 785.5 763.1 792.6 769.8 796.3 C776.4 800.1 787.2 802.8 794.7 803.8 C802.2 804.8 808.8 804.6 814.6 802.5 C820.4 800.5 825.6 796.9 829.5 791.3 C833.5 785.7 836.2 776.8 838.5 768.9 C840.8 761.1 842.5 752.3 843.5 744.0 C844.5 735.7 844.7 727.5 844.5 719.2 C844.2 710.9 843.6 701.7 842.0 694.3 C840.4 686.8 837.9 679.7 835.0 674.3 C832.1 669.0 828.4 665.3 824.6 662.4 C820.7 659.5 816.9 657.2 812.1 656.9 C807.3 656.6 800.5 656.9 795.9 660.7Z" fill="#c9c9c9" stroke-width="1.5"/>
<path d="M665.7 625.4 C670.7 622.2 682.9 623.4 691.5 622.2 C700.1 621.0 708.7 619.6 717.2 618.3 C725.8 617.0 735.5 615.7 743.0 614.5 C750.5 613.2 757.4 611.6 762.3 610.6 C767.2 609.6 770.7 607.4 772.4 608.3 C774.0 609.1 772.8 613.0 772.0 615.7 C771.2 618.5 769.3 622.0 767.5 624.8 C765.6 627.6 763.4 630.1 761.0 632.5 C758.7 634.8 756.3 636.8 753.3 638.9 C750.3 641.1 749.0 643.0 743.0 645.4 C737.0 647.7 725.4 650.9 717.2 653.1 C709.1 655.2 699.7 657.5 694.1 658.2 C688.5 659.0 686.1 658.2 683.8 657.6 C681.4 656.9 684.2 654.4 679.9 654.4 C675.6 654.4 661.0 659.7 658.0 657.6 C655.0 655.4 660.6 646.9 661.9 641.5 C663.2 636.1 660.8 628.6 665.7 625.4Z" fill="#c9c9c9" stroke-width="1.5"/><path d="M577.4 587.4 C582.8 585.2 595.3 579.0 609.8 574.4 C624.3 569.9 655.4 562.4 664.6 560.0" stroke-width="1.06"/>
<path d="M570.5 593.1 C570.6 594.3 569.2 598.7 571.2 600.6 C573.2 602.4 578.0 604.0 582.4 604.3 C586.8 604.6 591.5 604.1 597.3 602.3 C603.1 600.6 606.9 597.7 617.3 593.8 C627.6 590.0 642.6 584.9 659.6 579.4 C676.6 573.9 709.4 564.1 719.3 561.0" stroke-width="1.18"/>
<path d="M659.6 615.5 C660.8 613.4 662.9 607.0 667.0 603.1 C671.2 599.1 677.4 595.5 684.5 591.9 C691.5 588.2 699.4 584.8 709.4 581.4 C719.3 578.0 731.6 574.7 744.2 571.4 C756.9 568.2 778.4 563.6 785.3 562.0" stroke-width="1.18"/>
<path d="M621.0 549.5 C623.3 546.7 629.9 538.0 634.7 532.6 C639.5 527.2 644.2 522.3 649.6 517.2 C655.0 512.0 660.8 506.5 667.0 501.7 C673.3 497.0 679.9 492.2 687.0 488.8 C694.0 485.3 702.7 483.0 709.4 481.1 C716.0 479.2 723.9 478.0 726.8 477.3" stroke-width="1.89"/>
<path d="M632.2 545.8 C635.1 542.5 643.4 532.5 649.6 525.9 C655.8 519.2 662.9 511.6 669.5 506.0 C676.2 500.4 684.5 495.1 689.4 492.3 C694.4 489.4 697.7 489.4 699.4 488.8" stroke-width="1.18"/>
<path d="M625.2 548.5 C627.6 545.6 633.9 537.1 639.7 530.9 C645.4 524.6 653.4 516.5 659.6 510.9 C665.8 505.4 674.1 500.0 677.0 497.8" stroke-width="1.06"/>
<path d="M684.5 497.5 L843.8 497.5" stroke-width="2.60" stroke="#9a9a9a"/>
<path d="M689.4 488.5 L850.0 487.3" stroke-width="1.18"/>
<path d="M726.8 477.3 C728.0 477.1 724.7 476.7 734.3 476.1 C743.8 475.5 764.8 474.3 784.0 473.6 C803.3 472.9 839.0 472.2 850.0 471.9" stroke-width="1.53"/>
<path d="M734.3 476.1 C736.7 474.6 743.8 469.3 749.2 467.4 C754.6 465.5 752.5 465.0 766.6 464.9 C780.7 464.8 822.6 466.1 833.8 466.9 C845.0 467.6 833.8 469.0 833.8 469.4" stroke-width="1.53"/>
<path d="M749.2 473.6 C751.3 472.9 747.7 470.1 761.6 469.4 C775.5 468.7 820.8 469.4 832.6 469.4" stroke-width="1.18"/>
<path d="M759.2 472.4 C760.4 472.1 755.8 471.0 766.6 470.9 C777.4 470.7 814.3 471.3 823.9 471.4" stroke-width="1.06"/>
<path d="M627.2 547.5 C636.8 548.2 666.6 550.4 684.5 551.5 C702.3 552.7 717.7 553.6 734.3 554.5 C750.9 555.4 769.5 556.6 784.0 557.0 C798.6 557.4 815.2 557.0 821.4 557.0" stroke-width="1.42"/>
<path d="M627.2 552.0 C636.8 552.7 666.6 554.8 684.5 556.0 C702.3 557.2 717.7 558.1 734.3 559.0 C750.9 559.9 770.4 561.0 784.0 561.5 C797.7 562.0 811.0 561.9 816.4 562.0" stroke-width="1.18"/>
<path d="M821.4 557.0 C822.8 555.8 827.8 553.3 830.1 549.5 C832.4 545.8 833.0 541.2 835.1 534.6 C837.2 528.0 840.3 517.0 842.5 509.7 C844.8 502.4 847.7 494.1 848.8 491.0" stroke-width="1.42"/>
<path d="M816.4 562.0 C818.3 561.2 824.7 559.1 827.6 557.0 C830.5 554.9 831.8 554.1 833.8 549.5 C835.9 545.0 837.4 538.3 840.1 529.6 C842.8 520.9 848.4 502.7 850.0 497.3" stroke-width="1.65"/>
<path d="M824.4 557.0 C825.5 554.1 828.9 546.6 831.3 539.6 C833.8 532.5 836.4 522.6 838.8 514.7 C841.2 506.8 844.6 496.0 845.8 492.3" stroke-width="1.06"/>
<path d="M629.7 546.5 C633.0 546.3 643.8 544.7 649.6 545.1 C655.4 545.4 657.9 547.3 664.6 548.5 C671.2 549.8 680.3 551.6 689.4 552.5 C698.6 553.4 714.3 553.8 719.3 554.0" stroke-width="2.71"/>
<path d="M647.1 545.6 C649.2 545.8 653.4 545.8 659.6 547.0 C665.8 548.3 677.8 551.9 684.5 553.3 C691.1 554.6 696.9 554.7 699.4 555.0" stroke-width="1.18"/>
<path d="M689.4 551.0 C695.3 550.8 714.3 549.2 724.3 549.5 C734.3 549.9 740.5 552.1 749.2 553.3 C757.9 554.4 772.0 556.0 776.6 556.5" stroke-width="2.71"/>
<path d="M734.3 550.8 C738.4 551.6 752.5 554.5 759.2 555.8 C765.8 557.0 771.6 557.8 774.1 558.2" stroke-width="1.18"/>
<path d="M625.2 549.0 C624.5 548.3 621.7 546.8 621.0 544.6 C620.3 542.4 620.2 538.5 621.0 535.8 C621.8 533.1 623.7 530.2 626.0 528.4 C628.3 526.5 632.0 525.3 634.7 524.6 C637.4 524.0 640.9 524.6 642.2 524.6" stroke-width="1.53"/>
<path d="M625.2 547.0 C624.9 545.8 623.1 542.1 623.5 539.6 C623.8 537.1 625.3 534.0 627.2 532.1 C629.1 530.2 632.7 529.1 634.7 528.4 C636.7 527.6 638.4 527.8 639.2 527.6" stroke-width="1.06"/>
<path d="M629.7 544.6 C630.3 543.1 632.1 538.3 633.4 535.8 C634.8 533.4 637.0 530.7 637.7 529.6" stroke-width="0.94"/>
<path d="M626.0 538.3 L632.2 537.1" stroke-width="0.94"/>
<path d="M705.1 477.3 C715.9 477.1 748.2 476.7 769.8 476.1 C791.4 475.5 817.5 474.0 834.5 473.6 C851.5 473.2 865.6 473.6 871.9 473.6" stroke-width="1.42"/>
<path d="M734.9 473.6 C737.4 472.4 744.9 467.6 749.9 466.1 C754.9 464.7 751.9 464.8 764.8 464.9 C777.7 465.0 815.6 466.1 827.0 466.9 C838.5 467.6 832.6 469.0 833.8 469.4" stroke-width="1.53"/>
<path d="M759.8 471.1 C761.5 470.8 759.4 469.7 769.8 469.4 C780.2 469.1 813.4 469.4 822.1 469.4" stroke-width="1.18"/>
<path d="M871.9 473.6 C872.9 472.4 876.0 467.8 878.1 466.1 C880.2 464.5 881.6 464.1 884.3 463.6 C887.0 463.2 886.0 463.4 894.3 463.6 C902.6 463.9 925.6 463.9 934.1 464.9 C942.6 465.9 942.9 468.2 945.3 469.9 C947.7 471.5 948.0 474.0 948.5 474.9" stroke-width="1.65"/>
<path d="M879.3 473.6 C879.9 472.7 881.0 469.1 883.1 467.9 C885.1 466.6 890.3 465.2 891.8 466.1 C893.2 467.1 891.8 472.4 891.8 473.6" stroke-width="1.06"/>
<path d="M894.3 471.1 C897.6 471.0 908.0 470.2 914.2 470.4 C920.4 470.5 928.7 471.6 931.6 471.9" stroke-width="1.06"/>
<path d="M894.3 467.9 L934.1 467.9" stroke-width="1.06"/>
<path d="M924.1 465.4 L926.6 472.4" stroke-width="1.06"/>
<path d="M936.6 466.9 L940.3 472.9" stroke-width="1.06"/>
<path d="M720.0 487.3 C732.4 487.4 773.1 487.6 794.7 487.8 C816.3 488.0 840.3 488.4 849.4 488.5" stroke-width="1.18"/>
<path d="M849.4 488.5 C850.1 487.7 851.4 485.1 853.2 483.6 C854.9 482.0 857.2 480.2 859.9 479.1 C862.6 478.0 867.8 477.2 869.4 476.8" stroke-width="1.65"/>
<path d="M854.4 489.8 C855.3 489.0 856.9 486.1 859.4 484.8 C861.9 483.6 867.7 482.7 869.4 482.3" stroke-width="1.06"/>
<path d="M849.4 488.5 C848.6 491.2 846.5 497.9 844.5 504.7 C842.4 511.6 839.1 522.6 837.0 529.6 C834.9 536.7 833.5 543.2 832.0 547.0 C830.6 550.9 830.4 551.1 828.3 552.5 C826.2 554.0 821.0 555.2 819.6 555.8" stroke-width="1.53"/>
<path d="M847.0 497.8 C845.7 502.2 841.8 516.8 839.5 524.6 C837.2 532.4 834.9 540.2 833.3 544.6 C831.6 548.9 830.2 549.7 829.5 550.8" stroke-width="1.06"/>
<path d="M854.4 489.8 C853.6 493.1 850.9 502.2 849.4 509.7 C848.0 517.2 846.0 526.7 845.7 534.6 C845.4 542.5 847.2 553.3 847.5 557.0" stroke-width="1.42"/>
<path d="M856.4 549.5 C856.1 547.0 854.3 540.4 854.4 534.6 C854.6 528.8 855.8 520.7 857.4 514.7 C859.0 508.7 861.5 502.7 863.9 498.5 C866.3 494.4 867.0 491.9 871.9 489.8 C876.7 487.7 889.5 486.7 893.0 486.1" stroke-width="1.18"/>
<path d="M858.4 557.0 C857.7 553.4 858.0 549.3 859.4 544.6 C860.8 539.8 860.9 539.4 864.4 536.6 C867.9 533.8 867.4 533.8 874.3 532.6 C881.3 531.4 887.6 531.1 894.3 531.6 C900.9 532.1 900.3 532.6 903.0 534.6 C905.6 536.6 905.3 535.9 905.7 540.1 C906.1 544.3 907.4 548.5 904.7 552.5 C902.0 556.6 901.3 555.8 894.3 557.5 C887.2 559.2 881.8 559.4 874.3 560.0 C866.9 560.6 866.1 560.7 862.4 560.0 C858.7 559.3 859.1 560.6 858.4 557.0Z" fill="#fff" stroke-width="2.12"/>
<path d="M864.4 547.0 C867.7 547.0 877.7 546.5 884.3 546.5 C890.9 546.6 900.9 547.4 904.2 547.5" stroke-width="1.06"/>
<path d="M883.1 550.8 L886.3 548.3 L903.0 547.5 L904.2 551.5 L886.3 553.3Z" fill="#c9c9c9" stroke-width="1.42"/>
<path d="M849.4 559.5 C851.5 559.9 854.4 562.1 861.9 562.0 C869.4 561.9 887.1 560.2 894.3 559.0 C901.4 557.8 903.0 555.7 904.7 555.0" stroke-width="1.18"/>
<path d="M848.2 571.0 C850.1 570.4 855.5 568.7 859.4 567.3 C863.3 565.9 869.8 563.6 871.9 562.8" stroke-width="1.89"/>
<path d="M859.4 573.5 L879.3 568.5" stroke-width="1.06"/>
<path d="M863.1 587.2 L878.1 579.2" stroke-width="1.06"/>
<path d="M864.4 669.4 C865.6 666.9 866.9 659.0 871.9 654.4 C876.8 649.9 885.1 646.5 894.3 642.0 C903.4 637.4 921.2 629.5 926.6 627.0" stroke-width="1.06"/>
<path d="M906.2 578.5 C906.0 577.0 905.9 574.2 907.2 572.8 C908.5 571.3 912.1 570.1 914.2 569.8 C916.2 569.5 918.7 569.8 919.7 571.0 C920.6 572.3 920.6 575.5 919.7 577.3 C918.7 579.0 916.0 581.0 914.2 581.7 C912.3 582.5 910.0 582.3 908.7 581.7 C907.4 581.2 906.5 580.0 906.2 578.5Z" stroke-width="1.42"/>
<path d="M907.2 576.0 L919.2 573.5" stroke-width="1.06"/>
<path d="M855.5 691.8 C861.5 688.4 880.3 676.9 891.5 671.2 C902.7 665.5 916.1 660.2 922.4 657.8 C928.8 655.4 925.8 656.7 929.6 657.0 C933.4 657.2 942.0 658.7 945.1 659.4 C948.2 660.0 947.8 660.0 948.2 660.9 C948.5 661.8 948.0 663.6 947.1 665.0 C946.3 666.4 943.7 668.5 943.0 669.1" stroke-width="1.65"/>
<path d="M943.0 669.1 C935.8 673.4 910.0 688.7 899.7 694.9 C889.4 701.1 886.9 703.3 881.2 706.2 C875.5 709.1 870.3 711.0 865.8 712.4 C861.2 713.8 855.9 714.1 853.9 714.5" stroke-width="1.89"/>
<path d="M853.9 714.5 C854.0 712.4 854.0 705.9 854.2 702.1 C854.5 698.3 855.2 693.5 855.5 691.8" stroke-width="1.53"/>
<path d="M855.5 695.9 C861.1 692.6 888.3 676.1 897.7 671.2 C907.0 666.3 921.8 660.9 925.5 659.4" stroke-width="1.06"/>
<path d="M854.9 701.1 C860.1 698.1 883.6 683.9 893.6 678.4 C903.5 672.9 924.8 662.5 929.6 660.1" stroke-width="1.06"/>
<path d="M855.5 708.3 C858.0 707.6 865.8 706.2 870.9 704.2 C876.1 702.1 874.0 702.8 886.4 695.9 C898.7 689.1 935.3 668.6 945.1 663.2" stroke-width="1.06"/>
<path d="M938.9 671.2 C939.1 671.5 939.7 673.0 940.4 673.1 C941.1 673.1 942.6 671.9 943.0 671.7" stroke-width="1.18"/>
<path d="M918.3 654.7 C920.7 653.7 928.6 650.1 932.7 648.5 C936.8 647.0 940.3 647.0 943.0 645.5 C945.8 643.9 947.7 641.8 949.2 639.3 C950.6 636.7 951.3 631.5 951.8 630.0" stroke-width="1.53"/>
<path d="M921.4 643.4 C923.3 642.6 929.0 640.3 932.7 638.8 C936.4 637.2 941.7 634.9 943.5 634.1" stroke-width="1.06"/>
<path d="M857.5 688.7 L917.3 654.7" stroke-width="1.89"/>
<path d="M844.5 670.6 C845.9 670.4 851.5 665.4 853.2 669.4 C854.8 673.3 854.6 683.1 854.4 694.3 C854.2 705.5 853.6 728.8 851.9 736.6 C850.3 744.4 845.7 740.3 844.5 741.1" stroke-width="1.42"/>
<path d="M844.5 670.6 C844.4 672.9 844.4 680.8 844.0 684.3 C843.6 687.8 842.3 690.5 842.0 691.8" stroke-width="1.18"/>
<ellipse cx="814.6" cy="731.6" rx="21.4" ry="47.8" transform="rotate(3 814.6 731.6)" stroke-width="1.65"/>
<ellipse cx="814.1" cy="731.6" rx="28.1" ry="65.2" transform="rotate(3 814.1 731.6)" stroke-width="1.18"/>
<path d="M795.9 660.7 C795.1 663.8 792.4 671.2 790.9 679.3 C789.5 687.4 787.9 699.2 787.2 709.2 C786.5 719.2 786.1 729.1 786.7 739.1 C787.3 749.0 788.8 760.2 790.9 768.9 C793.1 777.7 796.5 786.0 799.7 791.3 C802.8 796.7 808.0 799.6 809.6 801.3" stroke-width="1.06"/>
<path d="M802.2 671.9 C801.1 675.6 797.3 686.4 795.9 694.3 C794.6 702.1 794.5 715.0 794.2 719.2" stroke-width="0.94"/>
<path d="M773.5 729.1 C773.9 725.0 774.4 712.5 776.0 704.2 C777.7 695.9 780.4 686.6 783.5 679.3 C786.6 672.1 789.9 664.6 794.7 660.7 C799.5 656.7 806.7 655.7 812.1 655.7 C817.5 655.7 822.9 658.0 827.0 660.7 C831.2 663.3 834.1 666.7 837.0 671.9 C839.9 677.0 843.2 688.5 844.5 691.8" stroke-width="1.53"/>
<path d="M764.8 632.0 C767.7 634.1 777.3 639.7 782.2 644.5 C787.2 649.2 792.6 658.0 794.7 660.7" stroke-width="1.18"/>
<path d="M769.8 649.4 C771.0 647.4 773.5 641.2 777.3 637.0 C781.0 632.9 786.0 628.3 792.2 624.6 C798.4 620.8 807.1 616.6 814.6 614.6 C822.1 612.6 831.2 611.8 837.0 612.6 C842.8 613.4 846.3 615.5 849.4 619.6 C852.6 623.6 854.6 634.1 855.7 637.0" stroke-width="1.06"/>
<path d="M824.6 640.7 C826.6 640.1 833.5 636.4 837.0 637.0 C840.5 637.6 843.4 640.7 845.7 644.5 C848.0 648.2 849.7 655.3 850.7 659.4 C851.7 663.6 851.7 667.7 851.9 669.4" stroke-width="1.42"/>
<path d="M829.5 624.6 C831.2 624.3 836.6 622.5 839.5 623.3 C842.4 624.1 845.7 628.5 847.0 629.5" stroke-width="0.94"/>
<path d="M737.4 605.9 C739.5 604.0 742.4 598.8 749.9 594.7 C757.3 590.5 770.6 585.6 782.2 581.0 C793.9 576.4 808.6 571.2 819.6 567.3 C830.6 563.4 843.4 559.0 848.2 557.3" stroke-width="1.18"/>
<path d="M746.1 597.2 C752.2 595.2 769.2 589.6 782.2 585.2 C795.3 580.9 813.4 574.9 824.6 571.0 C835.8 567.2 845.3 563.8 849.4 562.3" stroke-width="0.94"/>
<path d="M773.5 619.6 C778.3 617.5 791.6 611.3 802.2 607.1 C812.7 603.0 828.1 597.8 837.0 594.7 C845.9 591.6 852.6 589.5 855.7 588.5" stroke-width="0.94"/>
<path d="M794.7 615.8 C799.7 613.8 814.2 607.1 824.6 603.4 C834.9 599.7 851.5 595.1 856.9 593.4" stroke-width="0.94"/>
<path d="M819.6 556.1 C821.2 555.5 826.6 554.2 829.5 552.4 C832.4 550.5 834.9 548.6 837.0 544.9 C839.1 541.2 841.2 532.4 842.0 530.0" stroke-width="1.42"/>
<path d="M827.0 557.3 C829.5 556.1 838.5 549.9 842.0 549.9 C845.5 549.9 847.2 553.8 848.2 557.3 C849.2 560.9 848.2 568.8 848.2 571.0" stroke-width="1.30"/>
<path d="M848.2 557.3 L849.4 534.9" stroke-width="1.06"/>
<path d="M873.2 469.7 C874.4 469.2 878.0 468.1 880.0 467.1 C882.0 466.2 883.1 464.6 885.1 464.1 C887.1 463.5 883.4 463.5 891.9 463.7 C900.3 464.0 927.2 464.6 935.9 465.4 C944.7 466.3 942.3 467.4 944.4 468.8 C946.5 470.2 947.9 473.1 948.6 473.9" stroke-width="1.65"/>
<path d="M891.9 465.4 C891.6 465.9 890.6 467.5 890.5 468.5 C890.4 469.5 891.1 471.0 891.2 471.5" stroke-width="1.06"/>
<path d="M892.7 469.8 L915.6 470.7" stroke-width="1.89"/>
<path d="M893.6 467.5 L916.4 468.1" stroke-width="1.06"/>
<path d="M922.4 466.4 L935.9 467.3" stroke-width="1.06"/>
<path d="M930.8 465.4 L934.6 472.2" stroke-width="1.06"/>
<path d="M922.4 471.5 L938.5 472.7" stroke-width="1.65"/>
<path d="M938.5 467.1 L941.9 473.1" stroke-width="1.06"/>
<path d="M859.7 479.0 C861.9 478.6 869.8 477.4 873.2 476.9 C876.6 476.5 876.0 476.6 880.0 476.4 C884.0 476.3 888.5 475.9 896.9 475.9 C905.4 475.9 922.4 476.1 930.8 476.4 C939.3 476.8 943.8 477.3 947.8 478.1 C951.8 479.0 952.3 479.4 954.6 481.5 C956.8 483.6 958.8 486.8 961.4 490.8 C963.9 494.9 967.3 501.3 969.8 506.1 C972.4 510.9 974.6 516.0 976.6 519.7 C978.6 523.3 980.8 526.7 981.7 528.1" stroke-width="1.77"/>
<path d="M869.8 484.4 C871.5 484.4 875.8 484.2 880.0 484.1 C884.2 484.0 887.6 483.7 895.3 483.7 C902.9 483.8 916.4 484.3 925.8 484.4 C935.1 484.5 946.0 483.6 951.2 484.4 C956.4 485.2 955.1 486.9 957.1 489.2 C959.1 491.4 961.6 494.5 963.1 497.6 C964.5 500.7 965.0 502.7 965.6 507.8 C966.2 512.9 966.6 523.6 966.4 528.1 C966.3 532.7 965.0 533.8 964.7 534.9" stroke-width="1.42"/>
<path d="M894.4 483.7 C895.4 485.8 898.1 489.7 900.3 495.9 C902.6 502.2 905.7 512.6 908.0 521.4 C910.2 530.1 912.9 544.0 913.9 548.5" stroke-width="1.53"/>
<path d="M899.5 484.4 C900.5 486.6 903.2 490.9 905.4 497.6 C907.7 504.4 911.0 516.3 913.1 524.7 C915.1 533.2 916.9 544.5 917.6 548.5" stroke-width="1.30"/>
<path d="M924.9 485.4 C925.9 488.0 928.6 495.0 930.8 501.0 C933.1 507.0 937.0 515.1 938.5 521.4 C939.9 527.6 939.5 535.5 939.7 538.3" stroke-width="1.89"/>
<path d="M927.8 485.1 C928.9 487.7 932.0 495.0 934.2 501.0 C936.5 507.1 939.9 515.2 941.4 521.4 C942.8 527.5 942.8 535.2 943.1 538.0" stroke-width="1.18"/>
<path d="M930.8 484.4 C931.8 486.6 934.7 492.9 936.8 497.6 C938.8 502.4 940.9 506.2 943.1 512.9 C945.2 519.5 948.4 533.4 949.5 537.5" stroke-width="2.01"/>
<path d="M954.6 485.8 C955.4 487.2 958.3 490.6 959.7 494.2 C961.0 497.9 962.1 502.1 962.7 507.8 C963.3 513.4 963.4 523.7 963.4 528.1 C963.3 532.5 962.5 533.2 962.4 534.2" stroke-width="1.18"/>
<path d="M922.4 545.9 C926.6 544.7 940.7 540.3 947.8 538.3 C954.9 536.3 961.9 534.8 964.7 534.1" stroke-width="1.53"/>
<path d="M923.2 548.8 C927.5 547.5 940.0 542.1 948.6 540.7 C957.3 539.2 970.5 540.1 974.9 540.0" stroke-width="1.18"/>
<path d="M903.7 551.0 L922.4 547.6" stroke-width="1.18"/>
<path d="M948.6 537.5 C949.6 538.7 952.5 541.6 954.6 545.1 C956.7 548.6 959.7 554.1 961.4 558.6 C963.1 563.2 963.9 568.2 964.7 572.2 C965.6 576.2 966.2 580.7 966.4 582.4" stroke-width="1.30"/>
<ellipse cx="913.1" cy="575.6" rx="7.6" ry="5.4" transform="rotate(-12 913.1 575.6)" stroke-width="1.53"/>
<path d="M906.3 576.4 C907.4 576.1 910.7 574.7 913.1 574.2 C915.4 573.8 919.1 574.0 920.3 573.9" stroke-width="1.18"/>
<path d="M907.1 578.1 C908.2 577.9 911.8 576.8 913.9 576.4 C916.0 576.1 918.8 576.0 919.8 575.9" stroke-width="0.94"/>
<ellipse cx="954.6" cy="560.7" rx="7.6" ry="5.1" transform="rotate(-12 954.6 560.7)" stroke-width="1.53"/>
<path d="M947.8 561.7 C948.9 561.3 952.3 559.8 954.6 559.3 C956.9 558.9 960.5 559.0 961.7 559.0" stroke-width="1.18"/>
<path d="M948.6 563.4 C949.8 563.1 953.3 561.8 955.4 561.4 C957.5 561.0 960.4 561.1 961.4 561.0" stroke-width="0.94"/>
<path d="M935.9 584.1 C936.2 582.1 936.5 576.4 937.6 572.2 C938.8 568.0 940.5 562.3 942.7 558.6 C945.0 555.0 949.8 551.6 951.2 550.2" stroke-width="1.06"/>
<path d="M948.6 579.8 C949.6 578.3 952.2 573.5 954.6 570.5 C957.0 567.5 959.7 564.6 963.1 562.0 C966.4 559.5 972.9 556.4 974.9 555.3" stroke-width="1.06"/>
<path d="M958.0 546.8 C959.4 546.2 963.6 544.2 966.4 543.1 C969.3 541.9 973.5 540.5 974.9 540.0" stroke-width="1.06"/>
<path d="M954.6 602.7 C955.1 601.0 956.6 595.6 958.0 592.5 C959.4 589.4 961.1 586.3 963.1 584.1 C965.0 581.8 968.7 579.8 969.8 579.0" stroke-width="0.94"/>
<path d="M978.0 556.1 L983.4 556.9 L983.7 572.2 L980.0 573.2Z" fill="#c9c9c9" stroke-width="1.42"/>
<path d="M981.7 528.1 C982.5 529.3 985.5 532.1 986.8 534.9 C988.1 537.7 989.0 541.1 989.3 545.1 C989.6 549.0 988.3 553.6 988.5 558.6 C988.6 563.7 989.6 571.4 990.2 575.6 C990.7 579.8 991.7 579.8 991.9 584.1 C992.0 588.3 991.8 596.2 991.2 601.0 C990.6 605.8 989.7 609.8 988.5 612.9 C987.2 616.0 984.5 618.5 983.7 619.7" stroke-width="1.65"/>
<path d="M983.7 528.1 C984.5 530.1 987.4 535.5 988.5 540.0 C989.5 544.5 989.9 552.7 990.2 555.3" stroke-width="1.06"/>
<path d="M984.2 573.9 C984.6 575.6 986.2 580.1 986.4 584.1 C986.7 588.0 986.0 595.4 985.9 597.6" stroke-width="1.06"/>
<path d="M975.9 519.7 C976.3 522.2 978.0 528.8 978.3 534.9 C978.6 541.0 978.0 552.6 978.0 556.1" stroke-width="1.06"/>
<path d="M952.9 602.7 C954.0 601.0 957.1 595.4 959.7 592.5 C962.2 589.7 965.3 587.2 968.1 585.8 C971.0 584.4 974.4 583.8 976.6 584.1 C978.9 584.4 980.6 584.6 981.7 587.5 C982.8 590.3 983.4 595.9 983.4 601.0 C983.4 606.1 982.3 613.2 981.7 618.0 C981.1 622.8 980.4 623.6 980.0 629.8 C979.6 636.0 979.3 651.0 979.2 655.3" stroke-width="2.01"/>
<path d="M964.7 579.3 C966.4 578.5 972.0 574.9 974.9 574.2 C977.8 573.6 980.8 575.4 982.0 575.6" stroke-width="1.18"/>
<path d="M963.1 597.6 C964.5 596.6 968.7 592.3 971.5 591.2 C974.4 590.1 978.3 590.3 980.0 591.2 C981.7 592.0 981.4 595.4 981.7 596.3" stroke-width="1.30"/>
<path d="M974.9 592.5 C975.5 595.4 977.6 603.8 978.3 609.5 C979.0 615.1 979.0 623.6 979.2 626.4" stroke-width="1.18"/>
<path d="M945.3 650.2 C945.7 647.6 946.8 640.3 947.8 634.9 C948.8 629.5 949.8 623.1 951.2 618.0 C952.6 612.9 954.3 608.0 956.3 604.4 C958.2 600.8 960.8 597.3 963.1 596.3 C965.3 595.2 967.9 595.8 969.8 598.0 C971.8 600.2 973.6 604.7 974.9 609.5 C976.2 614.2 977.2 619.9 977.5 626.4 C977.7 632.9 977.5 640.8 976.6 648.5 C975.8 656.1 974.4 665.1 972.4 672.2 C970.4 679.3 967.1 686.6 964.7 690.8 C962.3 695.1 959.9 696.5 958.0 697.6 C956.0 698.8 953.7 697.6 952.9 697.6" stroke-width="1.65"/>
<path d="M922.4 684.1 C923.2 685.5 924.6 690.4 927.5 692.5 C930.3 694.7 934.8 695.9 939.3 696.8 C943.8 697.6 952.0 697.5 954.6 697.6" stroke-width="1.77"/>
<path d="M947.8 665.4 C947.9 668.0 947.8 675.9 948.6 680.7 C949.5 685.5 952.2 692.0 952.9 694.2" stroke-width="1.18"/>
<ellipse cx="963.9" cy="645.1" rx="9.3" ry="33.1" transform="rotate(2 963.9 645.1)" stroke-width="1.53"/>
<ellipse cx="964.4" cy="643.4" rx="12.9" ry="44.4" transform="rotate(2 964.4 643.4)" stroke-width="1.18"/>
<path d="M920.3 650.2 C923.8 649.5 936.9 647.1 941.0 645.9 C945.2 644.8 944.5 643.8 945.3 643.4" stroke-width="1.42"/>
<path d="M921.5 643.4 L942.7 634.9" stroke-width="1.06"/>
<path d="M920.7 628.1 L926.6 627.1" stroke-width="1.06"/>
<path d="M945.3 643.4 C945.7 642.0 946.5 639.2 947.8 634.9 C949.1 630.7 952.0 620.8 952.9 618.0" stroke-width="1.18"/><path d="M652.9 622.8 C653.9 622.2 652.9 620.3 659.3 619.0 C665.7 617.6 679.7 616.3 691.5 614.7 C703.3 613.1 719.4 611.0 730.1 609.3 C740.9 607.7 749.2 605.9 755.9 604.8 C762.5 603.7 767.2 602.7 770.0 602.6 C772.9 602.5 772.7 603.2 773.1 604.2 C773.5 605.1 772.5 607.6 772.4 608.3" stroke-width="1.89"/>
<path d="M665.1 625.4 C669.5 624.9 682.8 623.4 691.5 622.2 C700.2 621.0 708.7 619.6 717.2 618.3 C725.8 617.0 735.5 615.7 743.0 614.5 C750.5 613.2 757.4 611.6 762.3 610.6 C767.2 609.6 770.7 608.7 772.4 608.3" stroke-width="1.77"/>
<path d="M656.7 620.9 C662.5 620.3 679.3 618.8 691.5 617.3 C703.7 615.8 719.4 613.7 730.1 612.1 C740.9 610.6 749.1 608.9 755.9 607.8 C762.6 606.6 768.2 605.6 770.7 605.2" stroke-width="0.94"/>
<path d="M669.6 628.6 C673.3 628.2 683.6 627.3 691.5 626.3 C699.4 625.3 708.7 624.1 717.2 622.8 C725.8 621.5 735.3 620.1 743.0 618.6 C750.7 617.1 760.2 614.6 763.6 613.8" stroke-width="1.06"/>
<path d="M669.6 628.6 C669.1 630.8 667.5 637.2 666.4 641.5 C665.3 645.8 663.7 652.2 663.2 654.4" stroke-width="1.06"/>
<ellipse cx="692.8" cy="635.1" rx="8.0" ry="8.0" stroke-width="1.30"/>
<ellipse cx="692.8" cy="635.1" rx="5.8" ry="6.2" stroke-width="1.06"/>
<path d="M678.6 632.5 C678.0 634.0 675.0 639.1 674.8 641.5 C674.5 643.9 675.8 645.7 677.3 646.6 C678.8 647.6 682.7 647.2 683.8 647.3" stroke-width="1.06"/>
<path d="M701.8 628.6 C702.2 629.7 704.4 632.7 704.4 635.1 C704.4 637.4 703.5 641.1 701.8 642.8 C700.1 644.5 695.4 644.9 694.1 645.4" stroke-width="1.06"/>
<path d="M714.0 628.6 C714.1 629.7 714.8 633.2 714.7 635.1 C714.6 636.9 713.6 638.8 713.4 639.6" stroke-width="1.06"/>
<path d="M721.1 626.0 C721.0 627.1 721.3 630.6 720.5 632.5 C719.6 634.4 716.7 636.8 716.0 637.6" stroke-width="1.06"/>
<path d="M743.0 623.5 C742.4 624.8 740.3 629.1 739.1 631.2 C738.0 633.3 736.5 635.5 735.9 636.3" stroke-width="1.06"/>
<path d="M672.2 650.5 C677.6 649.9 693.4 648.5 704.4 646.6 C715.3 644.8 729.9 641.5 737.8 639.6 C745.8 637.6 749.7 635.8 752.0 635.1" stroke-width="1.06"/>
<path d="M679.9 654.4 C680.3 654.1 676.3 653.6 682.5 652.4 C688.7 651.3 707.2 649.2 717.2 647.3 C727.3 645.4 738.7 641.9 743.0 640.9" stroke-width="1.18"/>
<path d="M683.8 657.6 C689.4 656.6 707.4 653.9 717.2 651.8 C727.1 649.7 738.7 645.9 743.0 644.7" stroke-width="1.06"/>
<path d="M753.3 620.9 C753.4 619.8 754.6 619.2 755.9 619.0 C757.2 618.8 760.0 618.9 761.0 619.6 C762.1 620.4 762.6 622.3 762.3 623.5 C762.0 624.7 760.3 626.4 759.1 626.7 C757.9 627.0 756.2 626.4 755.2 625.4 C754.3 624.4 753.2 622.0 753.3 620.9Z" stroke-width="1.18"/>
<path d="M749.4 638.9 C750.9 638.1 755.8 636.1 758.4 633.8 C761.1 631.4 763.8 627.8 765.5 624.8 C767.2 621.8 768.2 617.3 768.7 615.7" stroke-width="1.06"/>
<path d="M511.9 609.2 C515.5 610.0 524.8 612.8 533.8 614.3 C542.8 615.8 553.7 616.9 565.9 618.2 C578.0 619.6 593.2 621.4 606.7 622.3 C620.2 623.2 640.2 623.5 646.9 623.8" stroke-width="1.18"/>
<path d="M514.1 607.0 C517.4 607.7 525.1 610.0 533.8 611.4 C542.4 612.7 553.7 613.7 565.9 615.0 C578.0 616.3 593.1 618.0 606.7 619.1 C620.4 620.2 640.8 621.2 647.6 621.6" stroke-width="0.94"/>
<path d="M506.1 618.2 C505.4 621.6 503.4 632.6 502.4 638.4 C501.4 644.2 500.0 648.8 500.2 653.0 C500.5 657.1 498.3 660.5 503.9 663.5 C509.5 666.4 521.5 668.1 533.8 670.8 C546.1 673.4 561.5 677.5 577.6 679.5 C593.6 681.6 619.1 685.9 630.1 683.0 C641.0 680.1 639.8 669.0 643.2 662.0 C646.6 655.1 649.6 647.7 650.5 641.3 C651.4 634.9 649.1 626.7 648.8 623.8" stroke-width="1.77"/>
<path d="M506.1 618.2 L513.3 609.2" stroke-width="1.42"/>
<path d="M646.9 623.8 C647.4 623.3 648.5 618.1 649.8 621.6 C651.1 625.1 653.4 634.4 653.4 641.3 C653.4 648.1 653.3 647.7 649.8 655.9 C646.3 664.1 639.7 676.5 635.9 682.1 C632.1 687.8 631.8 683.9 630.8 684.3" stroke-width="1.18"/>
<path d="M498.8 650.0 C498.8 651.5 498.1 656.1 499.0 658.8 C500.0 661.5 498.8 663.7 504.6 666.1 C510.4 668.5 521.6 670.7 533.8 673.4 C545.9 676.1 561.7 680.1 577.6 682.1 C593.4 684.2 620.1 685.2 628.6 685.8" stroke-width="1.06"/>
<path d="M511.9 620.6 C511.1 623.3 508.1 630.8 507.1 636.9 C506.1 642.9 506.0 653.5 505.8 656.8" stroke-width="1.30"/>
<path d="M516.0 622.3 C515.2 625.1 512.2 632.8 511.2 639.1 C510.2 645.3 510.1 656.1 509.8 659.6" stroke-width="1.30"/>
<path d="M520.9 621.1 C520.1 623.9 517.2 631.7 516.1 637.9 C515.1 644.1 515.0 655.0 514.8 658.4" stroke-width="1.30"/>
<path d="M525.0 622.8 C524.2 625.7 521.2 633.7 520.2 640.0 C519.2 646.4 519.1 657.6 518.9 661.1" stroke-width="1.30"/>
<path d="M529.7 621.6 C528.9 624.5 525.9 632.5 524.9 638.8 C523.9 645.2 523.8 656.4 523.6 659.9" stroke-width="1.30"/>
<path d="M533.8 623.3 C533.0 626.3 530.0 634.5 529.0 641.0 C528.0 647.5 527.9 659.0 527.6 662.6" stroke-width="1.30"/>
<path d="M538.4 622.2 C537.6 625.1 534.7 633.3 533.6 639.8 C532.6 646.3 532.5 657.8 532.3 661.3" stroke-width="1.30"/>
<path d="M542.5 623.9 C541.7 626.9 538.8 635.3 537.7 642.0 C536.7 648.7 536.6 660.4 536.4 664.1" stroke-width="1.30"/>
<path d="M546.6 622.6 C545.8 625.7 542.8 634.0 541.8 640.7 C540.8 647.4 540.7 659.1 540.5 662.7" stroke-width="1.30"/>
<path d="M549.8 624.3 C549.0 627.4 546.0 635.9 545.0 642.8 C544.0 649.6 543.9 661.6 543.7 665.3" stroke-width="1.30"/>
<path d="M507.2 648.8 L507.5 659.2" stroke-width="1.18"/>
<path d="M509.3 649.1 L509.6 659.6" stroke-width="1.18"/>
<path d="M511.3 649.3 L511.6 659.9" stroke-width="1.18"/>
<path d="M518.6 650.0 L518.9 661.2" stroke-width="1.18"/>
<path d="M523.0 650.4 L523.3 661.9" stroke-width="1.18"/>
<path d="M532.0 651.3 L532.3 663.5" stroke-width="1.18"/>
<path d="M536.4 651.8 L536.7 664.2" stroke-width="1.18"/>
<path d="M540.5 652.2 L540.8 664.9" stroke-width="1.18"/>
<path d="M544.9 652.6 L545.2 665.6" stroke-width="1.18"/>
<path d="M584.6 628.2 C583.7 631.3 580.7 640.2 579.4 647.3 C578.1 654.4 577.4 666.9 577.0 670.8" stroke-width="1.30"/>
<path d="M588.6 629.8 C587.8 633.1 584.7 642.3 583.4 649.6 C582.1 657.0 581.2 669.8 580.8 673.9" stroke-width="1.30"/>
<path d="M593.0 628.0 C592.1 631.3 589.0 640.4 587.6 647.7 C586.3 655.0 585.4 667.8 584.9 671.8" stroke-width="1.30"/>
<path d="M597.1 629.7 C596.2 633.0 593.0 642.5 591.6 650.0 C590.2 657.6 589.2 670.7 588.8 674.9" stroke-width="1.30"/>
<path d="M601.5 627.8 C600.5 631.2 597.3 640.6 595.9 648.1 C594.4 655.6 593.4 668.7 592.9 672.8" stroke-width="1.30"/>
<path d="M605.6 629.5 C604.6 633.0 601.3 642.6 599.8 650.4 C598.4 658.1 597.2 671.7 596.7 675.9" stroke-width="1.30"/>
<path d="M609.9 627.6 C609.0 631.1 605.6 640.7 604.1 648.4 C602.6 656.1 601.4 669.6 600.8 673.8" stroke-width="1.30"/>
<path d="M614.0 629.3 C613.0 632.9 609.6 642.8 608.1 650.7 C606.5 658.7 605.2 672.6 604.7 676.9" stroke-width="1.30"/>
<path d="M618.4 627.5 C617.4 631.0 613.9 640.9 612.3 648.8 C610.7 656.7 609.4 670.5 608.8 674.8" stroke-width="1.30"/>
<path d="M622.5 629.1 C621.5 632.8 618.0 643.0 616.3 651.1 C614.7 659.2 613.2 673.5 612.6 677.9" stroke-width="1.30"/>
<path d="M626.9 627.3 C625.8 630.9 622.3 641.1 620.6 649.1 C618.9 657.2 617.4 671.4 616.7 675.8" stroke-width="1.30"/>
<path d="M631.0 629.0 C629.9 632.7 626.3 643.1 624.5 651.5 C622.8 659.8 621.2 674.4 620.6 679.0" stroke-width="1.30"/>
<path d="M635.3 627.1 C634.2 630.8 630.6 640.8 628.8 648.8 C627.0 656.8 625.4 670.9 624.7 675.3" stroke-width="1.30"/>
<path d="M639.4 628.8 C638.3 631.9 634.6 640.5 632.8 647.3 C631.0 654.2 629.2 666.2 628.5 670.0" stroke-width="1.30"/>
<path d="M643.2 627.0 C642.1 629.8 638.3 637.8 636.5 644.1 C634.6 650.5 632.8 661.6 632.1 665.1" stroke-width="1.30"/>
<path d="M646.1 628.7 C645.0 631.1 641.2 637.9 639.3 643.3 C637.4 648.8 635.6 658.3 634.9 661.3" stroke-width="1.30"/>
<path d="M576.1 661.7 L575.5 673.4" stroke-width="1.18"/>
<path d="M579.3 662.1 L578.7 673.8" stroke-width="1.18"/>
<path d="M589.2 663.3 L588.6 675.1" stroke-width="1.18"/>
<path d="M593.6 663.8 L593.0 675.7" stroke-width="1.18"/>
<path d="M602.1 664.8 L601.5 676.8" stroke-width="1.18"/>
<path d="M606.2 665.3 L605.6 677.3" stroke-width="1.18"/>
<path d="M614.6 666.3 L614.0 678.4" stroke-width="1.18"/>
<path d="M619.0 666.9 L618.4 679.0" stroke-width="1.18"/>
<path d="M627.2 667.8 L626.6 680.0" stroke-width="1.18"/>
<path d="M580.2 632.2 L586.6 633.0" stroke-width="1.18"/>
<path d="M588.9 633.4 L595.4 634.1" stroke-width="1.18"/>
<path d="M606.4 635.2 L612.9 635.9" stroke-width="1.18"/>
<path d="M618.1 636.3 L624.5 637.1" stroke-width="1.18"/>
<path d="M581.6 655.6 L588.1 656.3" stroke-width="1.18"/>
<path d="M603.5 658.2 L609.9 658.9" stroke-width="1.18"/>
<path d="M612.3 659.2 L618.7 660.0" stroke-width="1.18"/>
<path d="M632.7 660.7 L639.1 661.4" stroke-width="1.18"/>
<path d="M514.8 611.4 C516.8 611.8 524.0 613.1 526.5 613.9 C528.9 614.6 527.5 615.6 529.4 615.8 C531.3 615.9 535.0 614.8 538.2 615.0 C541.3 615.3 545.7 616.4 548.4 617.2 C551.0 618.1 551.8 619.8 554.2 620.1 C556.6 620.5 561.5 619.5 563.0 619.4" stroke-width="1.06"/>
<path d="M571.7 618.2 C573.7 618.5 581.0 619.4 583.4 620.1 C585.8 620.8 583.9 622.1 586.3 622.3 C588.7 622.6 594.1 621.3 598.0 621.6 C601.9 621.8 605.8 623.5 609.7 623.8 C613.5 624.1 617.0 623.2 621.3 623.5 C625.7 623.7 632.0 624.9 635.9 625.2 C639.8 625.6 643.2 625.5 644.7 625.5" stroke-width="1.06"/>
<ellipse cx="563.7" cy="642.0" rx="14.6" ry="13.1" transform="rotate(3 563.7 642.0)" fill="#fff" stroke-width="1.77"/>
<ellipse cx="563.7" cy="642.0" rx="12.5" ry="11.2" transform="rotate(3 563.7 642.0)" stroke-width="1.06"/>
<ellipse cx="561.5" cy="663.2" rx="2.6" ry="2.6" fill="#fff" stroke-width="1.30"/>
<ellipse cx="561.5" cy="663.2" rx="1.3" ry="1.3" stroke-width="0.94"/>
<path d="M513.6 594.7 C512.4 595.5 508.0 597.8 506.1 599.7 C504.3 601.5 502.6 603.8 502.4 605.9 C502.2 608.0 504.5 611.1 504.9 612.1" stroke-width="1.42"/>
<path d="M509.9 602.2 C507.4 604.2 498.7 610.0 494.9 614.6 C491.2 619.2 489.1 624.6 487.5 629.5 C485.8 634.5 485.0 639.5 485.0 644.5 C485.0 649.4 486.2 653.6 487.5 659.4 C488.7 665.2 491.5 673.9 492.4 679.3 C493.4 684.7 492.9 689.7 492.9 691.8" stroke-width="1.65"/>
<path d="M504.9 602.2 C504.3 603.0 502.8 604.6 501.2 607.1 C499.5 609.7 496.4 613.9 494.9 617.6 C493.5 621.3 492.9 627.5 492.4 629.5" stroke-width="1.06"/>
<path d="M499.4 651.9 C498.7 654.8 496.0 662.7 494.9 669.4 C493.9 676.0 492.9 685.8 492.9 691.8 C493.0 697.8 493.4 701.3 495.4 705.5 C497.4 709.6 503.3 714.8 504.9 716.7" stroke-width="1.18"/>
<path d="M650.8 629.5 C651.4 630.8 654.1 632.9 654.3 637.0 C654.4 641.2 654.3 647.4 651.8 654.4 C649.3 661.5 642.1 672.7 639.3 679.3 C636.5 686.0 635.7 688.5 634.8 694.3 C634.0 700.1 634.4 710.9 634.3 714.2" stroke-width="1.30"/>
<path d="M646.8 625.8 C648.0 625.2 652.2 622.3 654.3 622.1 C656.3 621.9 658.4 624.1 659.2 624.6" stroke-width="1.18"/>
<path d="M518.6 679.3 L599.8 692.2 L601.0 712.8 L519.9 698.6Z" stroke-width="1.42"/>
<path d="M491.6 667.7 C491.8 672.4 492.2 689.2 492.9 696.1 C493.5 702.9 493.3 704.6 495.5 708.9 C497.6 713.2 502.3 719.0 505.8 721.8 C509.2 724.6 514.3 725.0 516.1 725.7" stroke-width="1.65"/>
<path d="M494.2 692.2 C498.2 693.3 506.8 695.8 518.6 698.6 C530.4 701.4 551.3 706.3 565.0 708.9 C578.7 711.6 588.6 712.9 601.0 714.6 C613.5 716.3 628.9 718.4 639.7 719.2 C650.4 720.1 660.2 718.9 665.4 719.7 C670.7 720.6 671.1 722.8 671.1 724.4 C671.1 725.9 670.2 728.3 665.4 729.0 C660.6 729.7 646.1 728.6 642.2 728.5" stroke-width="1.53"/>
<path d="M495.5 693.0 C497.2 694.0 494.2 696.0 505.8 699.1 C517.3 702.3 542.7 708.0 565.0 712.0 C587.3 716.1 627.2 721.5 639.7 723.4" stroke-width="1.06"/>
<path d="M492.9 696.1 C494.6 697.4 491.2 700.8 503.2 704.3 C515.2 707.8 541.8 713.1 565.0 717.2 C588.2 721.2 629.4 726.6 642.2 728.5" stroke-width="1.53"/>
<path d="M495.5 706.4 C507.0 709.0 540.9 717.5 565.0 722.3 C589.0 727.1 627.2 733.1 639.7 735.2" stroke-width="1.06"/>
<path d="M642.2 721.8 L666.7 722.3" stroke-width="1.06"/>
<path d="M642.2 725.9 L665.9 726.4" stroke-width="1.06"/>
<path d="M588.2 715.6 L593.3 716.9" stroke-width="1.89"/>
<path d="M602.3 719.5 L616.5 721.8" stroke-width="1.89"/>
<path d="M621.6 720.8 L642.2 722.6" stroke-width="1.89"/>
<path d="M516.1 725.7 C525.1 727.6 549.5 733.0 570.1 737.3 C590.7 741.6 624.6 748.2 639.7 751.4 C654.7 754.6 650.8 754.6 660.3 756.6 C669.7 758.5 690.3 761.9 696.3 763.0" stroke-width="1.65"/>
<path d="M634.5 685.8 C635.0 690.9 636.1 701.7 637.1 711.5 C638.1 721.3 638.6 728.0 639.7 734.7 C640.7 741.4 638.1 741.9 642.2 745.0 C646.4 748.1 653.6 748.6 660.3 750.1 C667.0 751.7 672.6 752.2 675.7 752.7" stroke-width="1.18"/>
<path d="M641.0 734.7 C646.3 734.9 664.4 736.7 673.1 736.0 C681.9 735.2 689.5 729.8 693.8 730.0 C698.0 730.3 698.0 736.1 698.9 737.3" stroke-width="1.06"/>
<path d="M644.8 748.8 C646.1 748.5 650.0 747.3 652.5 747.0 C655.1 746.8 659.0 747.5 660.3 747.6" stroke-width="0.94"/>
<path d="M655.1 703.8 C655.4 699.7 654.9 688.8 656.4 683.2 C658.0 677.5 654.3 678.5 662.8 675.5 C671.3 672.4 684.0 670.0 698.9 667.7 C713.8 665.4 729.8 664.6 737.5 663.9" stroke-width="1.42"/>
<path d="M658.2 701.2 C658.5 697.9 658.3 689.0 659.8 684.5 C661.2 679.9 657.6 681.1 665.4 678.5 C673.3 676.0 692.2 673.2 698.9 671.8" stroke-width="1.06"/>
<path d="M655.1 703.8 L698.9 704.3" stroke-width="1.53"/>
<path d="M704.1 706.4 C705.6 705.8 704.6 705.1 711.8 703.8 C719.0 702.5 733.4 699.9 740.1 699.9 C746.8 699.9 743.9 701.5 745.3 703.8 C746.6 706.1 747.0 705.3 746.8 711.5 C746.6 717.7 745.6 729.0 744.2 734.7 C742.9 740.4 740.9 738.8 740.1 739.8" stroke-width="1.53"/>
<path d="M706.6 707.9 C708.2 709.1 710.2 712.5 714.4 714.1 C718.5 715.6 722.6 715.6 727.2 715.6 C731.9 715.6 735.0 710.3 737.5 714.1 C740.1 717.9 740.1 729.7 740.1 734.7 C740.1 739.6 738.0 738.0 737.5 738.8" stroke-width="1.18"/>
<path d="M737.5 714.1 C737.4 716.2 736.9 723.1 737.0 727.0 C737.1 730.8 737.9 735.5 738.0 737.3" stroke-width="1.06"/>
<path d="M725.9 705.1 L738.8 704.3 L739.6 710.2 L727.2 711.5Z" fill="#c9c9c9" stroke-width="1.53"/>
<path d="M704.1 737.3 C705.3 738.1 707.9 742.4 711.8 742.4 C715.6 742.4 724.7 738.1 727.2 737.3" stroke-width="1.06"/>
<path d="M704.1 748.1 C709.6 747.6 727.7 746.8 737.5 745.0 C747.4 743.2 758.1 740.7 763.3 737.3 C768.4 733.8 767.6 726.5 768.4 724.4" stroke-width="1.18"/>
<path d="M516.1 725.7 C516.9 728.0 517.8 735.5 521.2 739.8 C524.6 744.1 530.6 748.6 536.7 751.4 C542.7 754.2 550.8 756.1 557.3 756.6 C563.7 757.0 570.1 755.9 575.3 754.0 C580.4 752.1 586.0 746.5 588.2 745.0" stroke-width="1.65"/>
<path d="M532.8 729.5 C533.3 731.1 528.9 734.2 535.4 737.3 C541.8 740.4 556.5 744.0 565.0 745.0 C573.5 746.0 576.8 743.7 577.9 742.4 C578.9 741.1 571.7 739.3 570.1 738.5" stroke-width="1.18"/>
<path d="M621.6 748.8 L634.5 761.7 L674.4 769.5 L677.0 760.4" stroke-width="1.65"/>
<path d="M677.0 760.4 C681.4 761.0 689.4 762.5 698.9 763.0 C708.4 763.5 719.0 762.0 724.7 763.0 C730.3 764.0 724.7 766.5 727.2 768.2 C729.8 769.8 733.4 771.3 737.5 771.3 C741.7 771.3 744.7 770.1 747.8 768.2 C750.9 766.3 750.4 763.8 753.0 761.7 C755.6 759.7 755.3 760.2 760.7 757.9 C766.1 755.5 776.2 751.7 780.0 750.1" stroke-width="1.53"/>
<path d="M733.7 764.3 C734.3 764.9 735.6 767.4 737.5 767.6 C739.5 767.9 744.0 765.9 745.3 765.6" stroke-width="1.06"/>
<path d="M651.8 659.4 C656.3 660.4 666.3 665.0 679.2 665.6 C692.0 666.3 713.8 665.0 728.9 663.1 C744.1 661.3 763.2 655.9 770.0 654.4" stroke-width="1.06"/>
<path d="M771.8 611.1 C772.9 612.5 775.9 615.3 778.7 619.6 C781.6 623.9 785.8 630.2 788.7 637.0 C791.6 643.8 794.9 656.7 796.2 660.7" stroke-width="1.06"/>
</g>
<g id="leaders" fill="none" stroke-linecap="butt" stroke-linejoin="miter">
<path d="M294.3 306 L294.3 475.6 L306 475.6" stroke="#fff" stroke-width="5.2" stroke-linecap="butt"/>
<path d="M286.8 473 L286.8 500.6 L331.8 500.6 L331.8 477.5" stroke="#fff" stroke-width="5.2" stroke-linecap="butt"/>
<path d="M308.9 500.6 L308.9 815.2" stroke="#fff" stroke-width="5.2" stroke-linecap="butt"/>
<path d="M435.2 434.5 L375 434.5 L375 815.2" stroke="#fff" stroke-width="5.2" stroke-linecap="butt"/>
<path d="M375 468.9 L435.2 468.9" stroke="#fff" stroke-width="5.2" stroke-linecap="butt"/>
<path d="M488.6 306 L488.6 455.2 L441.5 455.2" stroke="#fff" stroke-width="5.2" stroke-linecap="butt"/>
<path d="M458.2 483 L458.2 815.2" stroke="#fff" stroke-width="5.2" stroke-linecap="butt"/>
<path d="M419.1 595 L419.1 815.2" stroke="#fff" stroke-width="5.2" stroke-linecap="butt"/>
<path d="M255.3 528 L255.3 815.2" stroke="#fff" stroke-width="5.2" stroke-linecap="butt"/>
<path d="M654.7 306 L654.7 394.5" stroke="#fff" stroke-width="5.2" stroke-linecap="butt"/>
<path d="M730.1 306 L730.1 549.5" stroke="#fff" stroke-width="5.2" stroke-linecap="butt"/>
<path d="M919.2 306 L919.2 549.3 L904.2 549.3" stroke="#fff" stroke-width="5.2" stroke-linecap="butt"/>
<path d="M980.9 306 L980.9 557" stroke="#fff" stroke-width="5.2" stroke-linecap="butt"/>
<path d="M567.6 607 L567.6 815.2" stroke="#fff" stroke-width="5.2" stroke-linecap="butt"/>
<path d="M653.9 644 L653.9 661.6 L747 661.6 L747 620.5" stroke="#fff" stroke-width="5.2" stroke-linecap="butt"/>
<path d="M700.3 661.6 L700.3 815.2" stroke="#fff" stroke-width="5.2" stroke-linecap="butt"/>
<path d="M738.7 708.7 L769.7 708.7 L769.7 815.2" stroke="#fff" stroke-width="5.2" stroke-linecap="butt"/>
<path d="M760.6 624.5 L819.4 624.5 L819.4 815.2" stroke="#fff" stroke-width="5.2" stroke-linecap="butt"/>
<path d="M838.2 747.8 L858.8 747.8 L858.8 815.2" stroke="#fff" stroke-width="5.2" stroke-linecap="butt"/>
<path d="M897.1 649.5 L897.1 815.2" stroke="#fff" stroke-width="5.2" stroke-linecap="butt"/>
<path d="M294.3 306 L294.3 475.6 L306 475.6" stroke="#222" stroke-width="1.5"/>
<path d="M286.8 473 L286.8 500.6 L331.8 500.6 L331.8 477.5" stroke="#222" stroke-width="1.5"/>
<path d="M308.9 500.6 L308.9 815.2" stroke="#222" stroke-width="1.5"/>
<path d="M435.2 434.5 L375 434.5 L375 815.2" stroke="#222" stroke-width="1.5"/>
<path d="M375 468.9 L435.2 468.9" stroke="#222" stroke-width="1.5"/>
<path d="M488.6 306 L488.6 455.2 L441.5 455.2" stroke="#222" stroke-width="1.5"/>
<path d="M458.2 483 L458.2 815.2" stroke="#222" stroke-width="1.5"/>
<path d="M419.1 595 L419.1 815.2" stroke="#222" stroke-width="1.5"/>
<path d="M255.3 528 L255.3 815.2" stroke="#222" stroke-width="1.5"/>
<path d="M654.7 306 L654.7 394.5" stroke="#222" stroke-width="1.5"/>
<path d="M730.1 306 L730.1 549.5" stroke="#222" stroke-width="1.5"/>
<path d="M919.2 306 L919.2 549.3 L904.2 549.3" stroke="#222" stroke-width="1.5"/>
<path d="M980.9 306 L980.9 557" stroke="#222" stroke-width="1.5"/>
<path d="M567.6 607 L567.6 815.2" stroke="#222" stroke-width="1.5"/>
<path d="M653.9 644 L653.9 661.6 L747 661.6 L747 620.5" stroke="#222" stroke-width="1.5"/>
<path d="M700.3 661.6 L700.3 815.2" stroke="#222" stroke-width="1.5"/>
<path d="M738.7 708.7 L769.7 708.7 L769.7 815.2" stroke="#222" stroke-width="1.5"/>
<path d="M760.6 624.5 L819.4 624.5 L819.4 815.2" stroke="#222" stroke-width="1.5"/>
<path d="M838.2 747.8 L858.8 747.8 L858.8 815.2" stroke="#222" stroke-width="1.5"/>
<path d="M897.1 649.5 L897.1 815.2" stroke="#222" stroke-width="1.5"/>
</g>
<g><circle cx="294.3" cy="290.1" r="15.9" fill="#fff" stroke="#1a1a1a" stroke-width="1.45"/><text transform="translate(294.30 300.51) scale(0.68 1)" font-size="30" text-anchor="middle" fill="#1a1a1a" stroke="#1a1a1a" stroke-width="0.55">8</text></g>
<g><circle cx="488.6" cy="290.1" r="15.9" fill="#fff" stroke="#1a1a1a" stroke-width="1.45"/><path transform="translate(477.26 300.51) scale(20.400 30)" d="M0.3726 0L0.2847 0L0.2847 -0.560Q0.2529 -0.5298 0.2014 -0.4995Q0.15 -0.4692 0.1089 -0.4541L0.1089 -0.5391Q0.1826 -0.5737 0.2378 -0.623Q0.293 -0.6724 0.3159 -0.7188L0.3726 -0.7188Z" fill="#1a1a1a" stroke="#1a1a1a" stroke-width="0.02"/><path transform="translate(488.60 300.51) scale(20.400 30)" d="M0.3726 0L0.2847 0L0.2847 -0.560Q0.2529 -0.5298 0.2014 -0.4995Q0.15 -0.4692 0.1089 -0.4541L0.1089 -0.5391Q0.1826 -0.5737 0.2378 -0.623Q0.293 -0.6724 0.3159 -0.7188L0.3726 -0.7188Z" fill="#1a1a1a" stroke="#1a1a1a" stroke-width="0.02"/></g>
<g><circle cx="654.8" cy="290.1" r="15.9" fill="#fff" stroke="#1a1a1a" stroke-width="1.45"/><text transform="translate(654.80 300.51) scale(0.68 1)" font-size="30" text-anchor="middle" fill="#1a1a1a" stroke="#1a1a1a" stroke-width="0.55">3</text></g>
<g><circle cx="730.2" cy="290.1" r="15.9" fill="#fff" stroke="#1a1a1a" stroke-width="1.45"/><text transform="translate(730.20 300.51) scale(0.68 1)" font-size="30" text-anchor="middle" fill="#1a1a1a" stroke="#1a1a1a" stroke-width="0.55">4</text></g>
<g><circle cx="919.3" cy="290.1" r="15.9" fill="#fff" stroke="#1a1a1a" stroke-width="1.45"/><path transform="translate(907.96 300.51) scale(20.400 30)" d="M0.3726 0L0.2847 0L0.2847 -0.560Q0.2529 -0.5298 0.2014 -0.4995Q0.15 -0.4692 0.1089 -0.4541L0.1089 -0.5391Q0.1826 -0.5737 0.2378 -0.623Q0.293 -0.6724 0.3159 -0.7188L0.3726 -0.7188Z" fill="#1a1a1a" stroke="#1a1a1a" stroke-width="0.02"/><path transform="translate(919.30 300.51) scale(20.400 30)" d="M0.3726 0L0.2847 0L0.2847 -0.560Q0.2529 -0.5298 0.2014 -0.4995Q0.15 -0.4692 0.1089 -0.4541L0.1089 -0.5391Q0.1826 -0.5737 0.2378 -0.623Q0.293 -0.6724 0.3159 -0.7188L0.3726 -0.7188Z" fill="#1a1a1a" stroke="#1a1a1a" stroke-width="0.02"/></g>
<g><circle cx="980.8" cy="290.1" r="15.9" fill="#fff" stroke="#1a1a1a" stroke-width="1.45"/><text transform="translate(980.80 300.51) scale(0.68 1)" font-size="30" text-anchor="middle" fill="#1a1a1a" stroke="#1a1a1a" stroke-width="0.55">5</text></g>
<g><circle cx="254.8" cy="831.0" r="15.9" fill="#fff" stroke="#1a1a1a" stroke-width="1.45"/><text transform="translate(254.80 841.41) scale(0.68 1)" font-size="30" text-anchor="middle" fill="#1a1a1a" stroke="#1a1a1a" stroke-width="0.55">2</text></g>
<g><circle cx="309.1" cy="831.0" r="15.9" fill="#fff" stroke="#1a1a1a" stroke-width="1.45"/><path transform="translate(297.76 841.41) scale(20.400 30)" d="M0.3726 0L0.2847 0L0.2847 -0.560Q0.2529 -0.5298 0.2014 -0.4995Q0.15 -0.4692 0.1089 -0.4541L0.1089 -0.5391Q0.1826 -0.5737 0.2378 -0.623Q0.293 -0.6724 0.3159 -0.7188L0.3726 -0.7188Z" fill="#1a1a1a" stroke="#1a1a1a" stroke-width="0.02"/><text transform="translate(314.77 841.41) scale(0.68 1)" font-size="30" text-anchor="middle" fill="#1a1a1a" stroke="#1a1a1a" stroke-width="0.55">3</text></g>
<g><circle cx="375.1" cy="831.0" r="15.9" fill="#fff" stroke="#1a1a1a" stroke-width="1.45"/><path transform="translate(363.76 841.41) scale(20.400 30)" d="M0.3726 0L0.2847 0L0.2847 -0.560Q0.2529 -0.5298 0.2014 -0.4995Q0.15 -0.4692 0.1089 -0.4541L0.1089 -0.5391Q0.1826 -0.5737 0.2378 -0.623Q0.293 -0.6724 0.3159 -0.7188L0.3726 -0.7188Z" fill="#1a1a1a" stroke="#1a1a1a" stroke-width="0.02"/><text transform="translate(380.77 841.41) scale(0.68 1)" font-size="30" text-anchor="middle" fill="#1a1a1a" stroke="#1a1a1a" stroke-width="0.55">2</text></g>
<g><circle cx="419" cy="831.0" r="15.9" fill="#fff" stroke="#1a1a1a" stroke-width="1.45"/><path transform="translate(407.66 841.41) scale(20.400 30)" d="M0.3726 0L0.2847 0L0.2847 -0.560Q0.2529 -0.5298 0.2014 -0.4995Q0.15 -0.4692 0.1089 -0.4541L0.1089 -0.5391Q0.1826 -0.5737 0.2378 -0.623Q0.293 -0.6724 0.3159 -0.7188L0.3726 -0.7188Z" fill="#1a1a1a" stroke="#1a1a1a" stroke-width="0.02"/><text transform="translate(424.67 841.41) scale(0.68 1)" font-size="30" text-anchor="middle" fill="#1a1a1a" stroke="#1a1a1a" stroke-width="0.55">0</text></g>
<g><circle cx="458" cy="831.0" r="15.9" fill="#fff" stroke="#1a1a1a" stroke-width="1.45"/><path transform="translate(446.66 841.41) scale(20.400 30)" d="M0.3726 0L0.2847 0L0.2847 -0.560Q0.2529 -0.5298 0.2014 -0.4995Q0.15 -0.4692 0.1089 -0.4541L0.1089 -0.5391Q0.1826 -0.5737 0.2378 -0.623Q0.293 -0.6724 0.3159 -0.7188L0.3726 -0.7188Z" fill="#1a1a1a" stroke="#1a1a1a" stroke-width="0.02"/><text transform="translate(463.67 841.41) scale(0.68 1)" font-size="30" text-anchor="middle" fill="#1a1a1a" stroke="#1a1a1a" stroke-width="0.55">4</text></g>
<g><circle cx="567.6" cy="831.0" r="15.9" fill="#fff" stroke="#1a1a1a" stroke-width="1.45"/><text transform="translate(567.60 841.41) scale(0.68 1)" font-size="30" text-anchor="middle" fill="#1a1a1a" stroke="#1a1a1a" stroke-width="0.55">7</text></g>
<g><circle cx="700" cy="831.0" r="15.9" fill="#fff" stroke="#1a1a1a" stroke-width="1.45"/><text transform="translate(700.00 841.41) scale(0.68 1)" font-size="30" text-anchor="middle" fill="#1a1a1a" stroke="#1a1a1a" stroke-width="0.55">9</text></g>
<g><circle cx="769.6" cy="831.0" r="15.9" fill="#fff" stroke="#1a1a1a" stroke-width="1.45"/><path transform="translate(758.26 841.41) scale(20.400 30)" d="M0.3726 0L0.2847 0L0.2847 -0.560Q0.2529 -0.5298 0.2014 -0.4995Q0.15 -0.4692 0.1089 -0.4541L0.1089 -0.5391Q0.1826 -0.5737 0.2378 -0.623Q0.293 -0.6724 0.3159 -0.7188L0.3726 -0.7188Z" fill="#1a1a1a" stroke="#1a1a1a" stroke-width="0.02"/><text transform="translate(775.27 841.41) scale(0.68 1)" font-size="30" text-anchor="middle" fill="#1a1a1a" stroke="#1a1a1a" stroke-width="0.55">0</text></g>
<g><circle cx="819.1" cy="831.0" r="15.9" fill="#fff" stroke="#1a1a1a" stroke-width="1.45"/><path transform="translate(807.76 841.41) scale(20.400 30)" d="M0.3726 0L0.2847 0L0.2847 -0.560Q0.2529 -0.5298 0.2014 -0.4995Q0.15 -0.4692 0.1089 -0.4541L0.1089 -0.5391Q0.1826 -0.5737 0.2378 -0.623Q0.293 -0.6724 0.3159 -0.7188L0.3726 -0.7188Z" fill="#1a1a1a" stroke="#1a1a1a" stroke-width="0.02"/><path transform="translate(819.10 841.41) scale(20.400 30)" d="M0.3726 0L0.2847 0L0.2847 -0.560Q0.2529 -0.5298 0.2014 -0.4995Q0.15 -0.4692 0.1089 -0.4541L0.1089 -0.5391Q0.1826 -0.5737 0.2378 -0.623Q0.293 -0.6724 0.3159 -0.7188L0.3726 -0.7188Z" fill="#1a1a1a" stroke="#1a1a1a" stroke-width="0.02"/></g>
<g><circle cx="858.5" cy="831.0" r="15.9" fill="#fff" stroke="#1a1a1a" stroke-width="1.45"/><text transform="translate(858.50 841.41) scale(0.68 1)" font-size="30" text-anchor="middle" fill="#1a1a1a" stroke="#1a1a1a" stroke-width="0.55">6</text></g>
<g><circle cx="896.9" cy="831.0" r="15.9" fill="#fff" stroke="#1a1a1a" stroke-width="1.45"/><path transform="translate(891.23 841.41) scale(20.400 30)" d="M0.3726 0L0.2847 0L0.2847 -0.560Q0.2529 -0.5298 0.2014 -0.4995Q0.15 -0.4692 0.1089 -0.4541L0.1089 -0.5391Q0.1826 -0.5737 0.2378 -0.623Q0.293 -0.6724 0.3159 -0.7188L0.3726 -0.7188Z" fill="#1a1a1a" stroke="#1a1a1a" stroke-width="0.02"/></g>
<g><circle cx="174.6" cy="883.7" r="14.2" fill="#fff" stroke="#1a1a1a" stroke-width="1.35"/><path transform="translate(169.97 893.70) scale(16.660 24.5)" d="M0.3726 0L0.2847 0L0.2847 -0.560Q0.2529 -0.5298 0.2014 -0.4995Q0.15 -0.4692 0.1089 -0.4541L0.1089 -0.5391Q0.1826 -0.5737 0.2378 -0.623Q0.293 -0.6724 0.3159 -0.7188L0.3726 -0.7188Z" fill="#1a1a1a" stroke="#1a1a1a" stroke-width="0.02"/></g>
<g><circle cx="174.6" cy="1037.7" r="14.2" fill="#fff" stroke="#1a1a1a" stroke-width="1.35"/><text transform="translate(174.60 1047.70) scale(0.68 1)" font-size="24.5" text-anchor="middle" fill="#1a1a1a" stroke="#1a1a1a" stroke-width="0.55">2</text></g>
<g><circle cx="174.6" cy="1162.7" r="14.2" fill="#fff" stroke="#1a1a1a" stroke-width="1.35"/><text transform="translate(174.60 1172.70) scale(0.68 1)" font-size="24.5" text-anchor="middle" fill="#1a1a1a" stroke="#1a1a1a" stroke-width="0.55">3</text></g>
</svg>
<div class="code">IIPPD025</div>
<div class="row b" style="top:872.9px"><span class="l">Portieren</span><span class="d" style="margin-left:6.5px"><span class="di">. . . . . . . . . . . . . . . . . . . . . . . . . . . . . . . . . . . . . . . . . . . . . . . . . . . . . . . . . . . . . . . . . . . . . . . . . . . . . . . .</span></span><span class="r">Blz. 178</span></div>
<div class="row" style="top:903.1px"><span class="l">Vergrendelen/ontgrendelen</span><span class="d" style="margin-left:6.5px"><span class="di">. . . . . . . . . . . . . . . . . . . . . . . . . . . . . . . . . . . . . . . . . . . . . . . . . . . . . . . . . . . . . . . . . . . . . . . . . . . . . . . .</span></span><span class="r">Blz. 178</span></div>
<div class="row" style="top:930.9px"><span class="l">Openen/sluiten van de portierruiten&nbsp;</span><span class="d" style="margin-left:6.5px"><span class="di">. . . . . . . . . . . . . . . . . . . . . . . . . . . . . . . . . . . . . . . . . . . . . . . . . . . . . . . . . . . . . . . . . . . . . . . . . . . . . . . .</span></span><span class="r">Blz. 278</span></div>
<div class="row" style="top:959.4px"><span class="l">Vergrendelen/ontgrendelen met de mechanische sleutel<span class="ast">*</span><span class="s1">1</span></span><span class="d" style="margin-left:1px"><span class="di">. . . . . . . . . . . . . . . . . . . . . . . . . . . . . . . . . . . . . . . . . . . . . . . . . . . . . . . . . . . . . . . . . . . . . . . . . . . . . . . .</span></span><span class="r">Blz. 795</span></div>
<div class="row" style="top:987.9px"><span class="l">Waarschuwingslampjes/waarschuwingsmeldingen<span class="ast">*</span><span class="s1">1</span></span><span class="d" style="margin-left:8px"><span class="di">. . . . . . . . . . . . . . . . . . . . . . . . . . . . . . . . . . . . . . . . . . . . . . . . . . . . . . . . . . . . . . . . . . . . . . . . . . . . . . . .</span></span><span class="r">Blz. 739, 749</span></div>
<div class="row b" style="top:1026.9px"><span class="l">Achterdeur</span><span class="d" style="margin-left:6.5px"><span class="di">. . . . . . . . . . . . . . . . . . . . . . . . . . . . . . . . . . . . . . . . . . . . . . . . . . . . . . . . . . . . . . . . . . . . . . . . . . . . . . . .</span></span><span class="r">Blz. 189</span></div>
<div class="row" style="top:1056.4px"><span class="l">Openen van buitenaf</span><span class="d" style="margin-left:6.5px"><span class="di">. . . . . . . . . . . . . . . . . . . . . . . . . . . . . . . . . . . . . . . . . . . . . . . . . . . . . . . . . . . . . . . . . . . . . . . . . . . . . . . .</span></span><span class="r">Blz. 190</span></div>
<div class="row" style="top:1084.9px"><span class="l">Openen/sluiten van de achterruit<span class="ast">*</span><span class="s1">1</span></span><span class="d" style="margin-left:1px"><span class="di">. . . . . . . . . . . . . . . . . . . . . . . . . . . . . . . . . . . . . . . . . . . . . . . . . . . . . . . . . . . . . . . . . . . . . . . . . . . . . . . .</span></span><span class="r">Blz. 195</span></div>
<div class="row" style="top:1113.4px"><span class="l">Waarschuwingslampjes/waarschuwingsmeldingen<span class="ast">*</span><span class="s1">1</span></span><span class="d" style="margin-left:8px"><span class="di">. . . . . . . . . . . . . . . . . . . . . . . . . . . . . . . . . . . . . . . . . . . . . . . . . . . . . . . . . . . . . . . . . . . . . . . . . . . . . . . .</span></span><span class="r">Blz. 739, 749</span></div>
<div class="row b" style="top:1151.4px"><span class="l">Buitenspiegels</span><span class="d" style="margin-left:6.5px"><span class="di">. . . . . . . . . . . . . . . . . . . . . . . . . . . . . . . . . . . . . . . . . . . . . . . . . . . . . . . . . . . . . . . . . . . . . . . . . . . . . . . .</span></span><span class="r">Blz. 273</span></div>
<div class="row" style="top:1181.1px"><span class="l">Verstellen van de spiegelhoek</span><span class="d" style="margin-left:6.5px"><span class="di">. . . . . . . . . . . . . . . . . . . . . . . . . . . . . . . . . . . . . . . . . . . . . . . . . . . . . . . . . . . . . . . . . . . . . . . . . . . . . . . .</span></span><span class="r">Blz. 273</span></div>
<div class="row" style="top:1209.4px"><span class="l">Inklappen van de buitenspiegels</span><span class="d" style="margin-left:6.5px"><span class="di">. . . . . . . . . . . . . . . . . . . . . . . . . . . . . . . . . . . . . . . . . . . . . . . . . . . . . . . . . . . . . . . . . . . . . . . . . . . . . . . .</span></span><span class="r">Blz. 273</span></div>
<div class="row" style="top:1237.4px"><span class="l">Ontwasemen van de buitenspiegels<span class="ast">*</span><span class="s1">1</span></span><span class="d" style="margin-left:1px"><span class="di">. . . . . . . . . . . . . . . . . . . . . . . . . . . . . . . . . . . . . . . . . . . . . . . . . . . . . . . . . . . . . . . . . . . . . . . . . . . . . . . .</span></span><span class="r">Blz. 573, 582</span></div>
</body></html>
